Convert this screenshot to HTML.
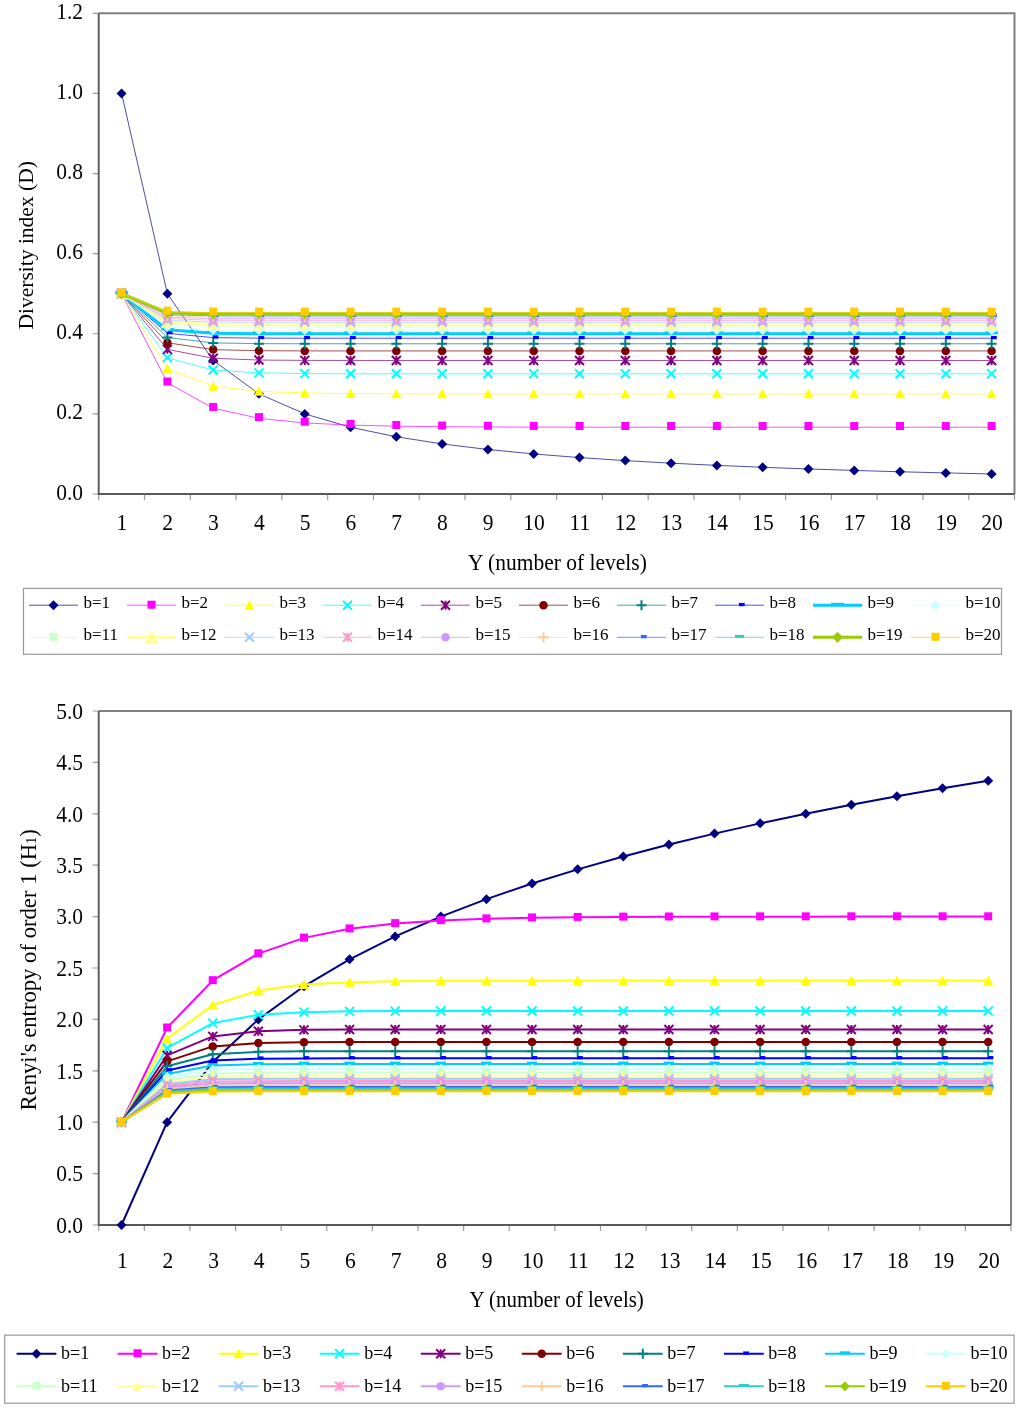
<!DOCTYPE html>
<html><head><meta charset="utf-8"><style>
html,body{margin:0;padding:0;background:#fff;}
body{width:1024px;height:1408px;overflow:hidden;}
svg{display:block;will-change:transform;}
text{font-family:"Liberation Serif", serif;fill:#000;}
</style></head><body>
<svg width="1024" height="1408" viewBox="0 0 1024 1408">
<rect width="1024" height="1408" fill="#fff"/>
<path d="M98.7 13.3H1014.5V494" stroke="#808080" stroke-width="2" fill="none"/>
<path d="M92.7 494H98.7 M92.7 413.88H98.7 M92.7 333.77H98.7 M92.7 253.65H98.7 M92.7 173.53H98.7 M92.7 93.42H98.7 M92.7 13.3H98.7 M98.7 494V499.9 M144.49 494V499.9 M190.28 494V499.9 M236.07 494V499.9 M281.86 494V499.9 M327.65 494V499.9 M373.44 494V499.9 M419.23 494V499.9 M465.02 494V499.9 M510.81 494V499.9 M556.6 494V499.9 M602.39 494V499.9 M648.18 494V499.9 M693.97 494V499.9 M739.76 494V499.9 M785.55 494V499.9 M831.34 494V499.9 M877.13 494V499.9 M922.92 494V499.9 M968.71 494V499.9 M1014.5 494V499.9" stroke="#9a9a9a" stroke-width="1.2" fill="none"/>
<path d="M98.7 13.3V494H1014.5" stroke="#595959" stroke-width="1.9" fill="none"/>
<text transform="translate(83 499.6) scale(1 1.055)" text-anchor="end" font-size="21.5">0.0</text>
<text transform="translate(83 419.48) scale(1 1.055)" text-anchor="end" font-size="21.5">0.2</text>
<text transform="translate(83 339.37) scale(1 1.055)" text-anchor="end" font-size="21.5">0.4</text>
<text transform="translate(83 259.25) scale(1 1.055)" text-anchor="end" font-size="21.5">0.6</text>
<text transform="translate(83 179.13) scale(1 1.055)" text-anchor="end" font-size="21.5">0.8</text>
<text transform="translate(83 99.02) scale(1 1.055)" text-anchor="end" font-size="21.5">1.0</text>
<text transform="translate(83 18.9) scale(1 1.055)" text-anchor="end" font-size="21.5">1.2</text>
<text transform="translate(121.89 530) scale(1 1.055)" text-anchor="middle" font-size="21.5">1</text>
<text transform="translate(167.69 530) scale(1 1.055)" text-anchor="middle" font-size="21.5">2</text>
<text transform="translate(213.48 530) scale(1 1.055)" text-anchor="middle" font-size="21.5">3</text>
<text transform="translate(259.26 530) scale(1 1.055)" text-anchor="middle" font-size="21.5">4</text>
<text transform="translate(305.06 530) scale(1 1.055)" text-anchor="middle" font-size="21.5">5</text>
<text transform="translate(350.85 530) scale(1 1.055)" text-anchor="middle" font-size="21.5">6</text>
<text transform="translate(396.63 530) scale(1 1.055)" text-anchor="middle" font-size="21.5">7</text>
<text transform="translate(442.43 530) scale(1 1.055)" text-anchor="middle" font-size="21.5">8</text>
<text transform="translate(488.21 530) scale(1 1.055)" text-anchor="middle" font-size="21.5">9</text>
<text transform="translate(534 530) scale(1 1.055)" text-anchor="middle" font-size="21.5">10</text>
<text transform="translate(579.79 530) scale(1 1.055)" text-anchor="middle" font-size="21.5">11</text>
<text transform="translate(625.59 530) scale(1 1.055)" text-anchor="middle" font-size="21.5">12</text>
<text transform="translate(671.38 530) scale(1 1.055)" text-anchor="middle" font-size="21.5">13</text>
<text transform="translate(717.16 530) scale(1 1.055)" text-anchor="middle" font-size="21.5">14</text>
<text transform="translate(762.96 530) scale(1 1.055)" text-anchor="middle" font-size="21.5">15</text>
<text transform="translate(808.75 530) scale(1 1.055)" text-anchor="middle" font-size="21.5">16</text>
<text transform="translate(854.53 530) scale(1 1.055)" text-anchor="middle" font-size="21.5">17</text>
<text transform="translate(900.32 530) scale(1 1.055)" text-anchor="middle" font-size="21.5">18</text>
<text transform="translate(946.12 530) scale(1 1.055)" text-anchor="middle" font-size="21.5">19</text>
<text transform="translate(991.9 530) scale(1 1.055)" text-anchor="middle" font-size="21.5">20</text>
<path d="M121.59 93.42 L167.38 293.71 L213.18 360.47 L258.96 393.85 L304.75 413.88 L350.55 427.24 L396.33 436.77 L442.12 443.93 L487.91 449.49 L533.71 453.94 L579.5 457.58 L625.29 460.62 L671.08 463.19 L716.87 465.39 L762.66 467.29 L808.45 468.96 L854.24 470.44 L900.02 471.75 L945.82 472.92 L991.61 473.97" stroke="#000080" stroke-width="0.7" fill="none" stroke-linejoin="round"/>
<path d="M121.59 88.42L126.59 93.42L121.59 98.42L116.59 93.42Z" fill="#000080"/>
<path d="M167.38 288.71L172.38 293.71L167.38 298.71L162.38 293.71Z" fill="#000080"/>
<path d="M213.18 355.47L218.18 360.47L213.18 365.47L208.18 360.47Z" fill="#000080"/>
<path d="M258.96 388.85L263.96 393.85L258.96 398.85L253.96 393.85Z" fill="#000080"/>
<path d="M304.75 408.88L309.75 413.88L304.75 418.88L299.75 413.88Z" fill="#000080"/>
<path d="M350.55 422.24L355.55 427.24L350.55 432.24L345.55 427.24Z" fill="#000080"/>
<path d="M396.33 431.77L401.33 436.77L396.33 441.77L391.33 436.77Z" fill="#000080"/>
<path d="M442.12 438.93L447.12 443.93L442.12 448.93L437.12 443.93Z" fill="#000080"/>
<path d="M487.91 444.49L492.91 449.49L487.91 454.49L482.91 449.49Z" fill="#000080"/>
<path d="M533.71 448.94L538.71 453.94L533.71 458.94L528.71 453.94Z" fill="#000080"/>
<path d="M579.5 452.58L584.5 457.58L579.5 462.58L574.5 457.58Z" fill="#000080"/>
<path d="M625.29 455.62L630.29 460.62L625.29 465.62L620.29 460.62Z" fill="#000080"/>
<path d="M671.08 458.19L676.08 463.19L671.08 468.19L666.08 463.19Z" fill="#000080"/>
<path d="M716.87 460.39L721.87 465.39L716.87 470.39L711.87 465.39Z" fill="#000080"/>
<path d="M762.66 462.29L767.66 467.29L762.66 472.29L757.66 467.29Z" fill="#000080"/>
<path d="M808.45 463.96L813.45 468.96L808.45 473.96L803.45 468.96Z" fill="#000080"/>
<path d="M854.24 465.44L859.24 470.44L854.24 475.44L849.24 470.44Z" fill="#000080"/>
<path d="M900.02 466.75L905.02 471.75L900.02 476.75L895.02 471.75Z" fill="#000080"/>
<path d="M945.82 467.92L950.82 472.92L945.82 477.92L940.82 472.92Z" fill="#000080"/>
<path d="M991.61 468.97L996.61 473.97L991.61 478.97L986.61 473.97Z" fill="#000080"/>
<path d="M121.59 293.71 L167.38 382.73 L213.18 408.16 L258.96 418.33 L304.75 422.93 L350.55 425.12 L396.33 426.18 L442.12 426.71 L487.91 426.97 L533.71 427.11 L579.5 427.17 L625.29 427.2 L671.08 427.22 L716.87 427.23 L762.66 427.23 L808.45 427.23 L854.24 427.24 L900.02 427.24 L945.82 427.24 L991.61 427.24" stroke="#FF00FF" stroke-width="0.7" fill="none" stroke-linejoin="round"/>
<rect x="117.59" y="288.51" width="8" height="8" fill="#FF00FF"/>
<rect x="163.38" y="377.53" width="8" height="8" fill="#FF00FF"/>
<rect x="209.18" y="402.96" width="8" height="8" fill="#FF00FF"/>
<rect x="254.96" y="413.13" width="8" height="8" fill="#FF00FF"/>
<rect x="300.75" y="417.73" width="8" height="8" fill="#FF00FF"/>
<rect x="346.55" y="419.92" width="8" height="8" fill="#FF00FF"/>
<rect x="392.33" y="420.98" width="8" height="8" fill="#FF00FF"/>
<rect x="438.12" y="421.51" width="8" height="8" fill="#FF00FF"/>
<rect x="483.91" y="421.77" width="8" height="8" fill="#FF00FF"/>
<rect x="529.71" y="421.91" width="8" height="8" fill="#FF00FF"/>
<rect x="575.5" y="421.97" width="8" height="8" fill="#FF00FF"/>
<rect x="621.29" y="422" width="8" height="8" fill="#FF00FF"/>
<rect x="667.08" y="422.02" width="8" height="8" fill="#FF00FF"/>
<rect x="712.87" y="422.03" width="8" height="8" fill="#FF00FF"/>
<rect x="758.66" y="422.03" width="8" height="8" fill="#FF00FF"/>
<rect x="804.45" y="422.03" width="8" height="8" fill="#FF00FF"/>
<rect x="850.24" y="422.04" width="8" height="8" fill="#FF00FF"/>
<rect x="896.02" y="422.04" width="8" height="8" fill="#FF00FF"/>
<rect x="941.82" y="422.04" width="8" height="8" fill="#FF00FF"/>
<rect x="987.61" y="422.04" width="8" height="8" fill="#FF00FF"/>
<path d="M121.59 293.71 L167.38 368.82 L213.18 386.15 L258.96 391.35 L304.75 393.03 L350.55 393.58 L396.33 393.76 L442.12 393.82 L487.91 393.84 L533.71 393.85 L579.5 393.85 L625.29 393.85 L671.08 393.85 L716.87 393.85 L762.66 393.85 L808.45 393.85 L854.24 393.85 L900.02 393.85 L945.82 393.85 L991.61 393.85" stroke="#FFFF00" stroke-width="0.7" fill="none" stroke-linejoin="round"/>
<path d="M121.59 288.71L126.59 298.21L116.59 298.21Z" fill="#FFFF00"/>
<path d="M167.38 363.82L172.38 373.32L162.38 373.32Z" fill="#FFFF00"/>
<path d="M213.18 381.15L218.18 390.65L208.18 390.65Z" fill="#FFFF00"/>
<path d="M258.96 386.35L263.96 395.85L253.96 395.85Z" fill="#FFFF00"/>
<path d="M304.75 388.03L309.75 397.53L299.75 397.53Z" fill="#FFFF00"/>
<path d="M350.55 388.58L355.55 398.08L345.55 398.08Z" fill="#FFFF00"/>
<path d="M396.33 388.76L401.33 398.26L391.33 398.26Z" fill="#FFFF00"/>
<path d="M442.12 388.82L447.12 398.32L437.12 398.32Z" fill="#FFFF00"/>
<path d="M487.91 388.84L492.91 398.34L482.91 398.34Z" fill="#FFFF00"/>
<path d="M533.71 388.85L538.71 398.35L528.71 398.35Z" fill="#FFFF00"/>
<path d="M579.5 388.85L584.5 398.35L574.5 398.35Z" fill="#FFFF00"/>
<path d="M625.29 388.85L630.29 398.35L620.29 398.35Z" fill="#FFFF00"/>
<path d="M671.08 388.85L676.08 398.35L666.08 398.35Z" fill="#FFFF00"/>
<path d="M716.87 388.85L721.87 398.35L711.87 398.35Z" fill="#FFFF00"/>
<path d="M762.66 388.85L767.66 398.35L757.66 398.35Z" fill="#FFFF00"/>
<path d="M808.45 388.85L813.45 398.35L803.45 398.35Z" fill="#FFFF00"/>
<path d="M854.24 388.85L859.24 398.35L849.24 398.35Z" fill="#FFFF00"/>
<path d="M900.02 388.85L905.02 398.35L895.02 398.35Z" fill="#FFFF00"/>
<path d="M945.82 388.85L950.82 398.35L940.82 398.35Z" fill="#FFFF00"/>
<path d="M991.61 388.85L996.61 398.35L986.61 398.35Z" fill="#FFFF00"/>
<path d="M121.59 293.71 L167.38 357.8 L213.18 370.01 L258.96 372.88 L304.75 373.59 L350.55 373.77 L396.33 373.81 L442.12 373.82 L487.91 373.82 L533.71 373.82 L579.5 373.82 L625.29 373.82 L671.08 373.82 L716.87 373.82 L762.66 373.82 L808.45 373.82 L854.24 373.82 L900.02 373.82 L945.82 373.82 L991.61 373.82" stroke="#00FFFF" stroke-width="0.7" fill="none" stroke-linejoin="round"/>
<path d="M117.09 289.21L126.09 298.21M126.09 289.21L117.09 298.21" stroke="#00FFFF" stroke-width="2" fill="none"/>
<path d="M162.88 353.3L171.88 362.3M171.88 353.3L162.88 362.3" stroke="#00FFFF" stroke-width="2" fill="none"/>
<path d="M208.68 365.51L217.68 374.51M217.68 365.51L208.68 374.51" stroke="#00FFFF" stroke-width="2" fill="none"/>
<path d="M254.46 368.38L263.46 377.38M263.46 368.38L254.46 377.38" stroke="#00FFFF" stroke-width="2" fill="none"/>
<path d="M300.25 369.09L309.25 378.09M309.25 369.09L300.25 378.09" stroke="#00FFFF" stroke-width="2" fill="none"/>
<path d="M346.05 369.27L355.05 378.27M355.05 369.27L346.05 378.27" stroke="#00FFFF" stroke-width="2" fill="none"/>
<path d="M391.83 369.31L400.83 378.31M400.83 369.31L391.83 378.31" stroke="#00FFFF" stroke-width="2" fill="none"/>
<path d="M437.62 369.32L446.62 378.32M446.62 369.32L437.62 378.32" stroke="#00FFFF" stroke-width="2" fill="none"/>
<path d="M483.41 369.32L492.41 378.32M492.41 369.32L483.41 378.32" stroke="#00FFFF" stroke-width="2" fill="none"/>
<path d="M529.21 369.32L538.21 378.32M538.21 369.32L529.21 378.32" stroke="#00FFFF" stroke-width="2" fill="none"/>
<path d="M575 369.32L584 378.32M584 369.32L575 378.32" stroke="#00FFFF" stroke-width="2" fill="none"/>
<path d="M620.79 369.32L629.79 378.32M629.79 369.32L620.79 378.32" stroke="#00FFFF" stroke-width="2" fill="none"/>
<path d="M666.58 369.32L675.58 378.32M675.58 369.32L666.58 378.32" stroke="#00FFFF" stroke-width="2" fill="none"/>
<path d="M712.37 369.32L721.37 378.32M721.37 369.32L712.37 378.32" stroke="#00FFFF" stroke-width="2" fill="none"/>
<path d="M758.16 369.32L767.16 378.32M767.16 369.32L758.16 378.32" stroke="#00FFFF" stroke-width="2" fill="none"/>
<path d="M803.95 369.32L812.95 378.32M812.95 369.32L803.95 378.32" stroke="#00FFFF" stroke-width="2" fill="none"/>
<path d="M849.74 369.32L858.74 378.32M858.74 369.32L849.74 378.32" stroke="#00FFFF" stroke-width="2" fill="none"/>
<path d="M895.52 369.32L904.52 378.32M904.52 369.32L895.52 378.32" stroke="#00FFFF" stroke-width="2" fill="none"/>
<path d="M941.32 369.32L950.32 378.32M950.32 369.32L941.32 378.32" stroke="#00FFFF" stroke-width="2" fill="none"/>
<path d="M987.11 369.32L996.11 378.32M996.11 369.32L987.11 378.32" stroke="#00FFFF" stroke-width="2" fill="none"/>
<path d="M121.59 293.71 L167.38 349.34 L213.18 358.32 L258.96 360.04 L304.75 360.39 L350.55 360.46 L396.33 360.47 L442.12 360.47 L487.91 360.47 L533.71 360.47 L579.5 360.47 L625.29 360.47 L671.08 360.47 L716.87 360.47 L762.66 360.47 L808.45 360.47 L854.24 360.47 L900.02 360.47 L945.82 360.47 L991.61 360.47" stroke="#800080" stroke-width="0.7" fill="none" stroke-linejoin="round"/>
<path d="M117.09 289.21L126.09 298.21M126.09 289.21L117.09 298.21M121.59 289.21L121.59 298.21" stroke="#800080" stroke-width="2" fill="none"/>
<path d="M162.88 344.84L171.88 353.84M171.88 344.84L162.88 353.84M167.38 344.84L167.38 353.84" stroke="#800080" stroke-width="2" fill="none"/>
<path d="M208.68 353.82L217.68 362.82M217.68 353.82L208.68 362.82M213.18 353.82L213.18 362.82" stroke="#800080" stroke-width="2" fill="none"/>
<path d="M254.46 355.54L263.46 364.54M263.46 355.54L254.46 364.54M258.96 355.54L258.96 364.54" stroke="#800080" stroke-width="2" fill="none"/>
<path d="M300.25 355.89L309.25 364.89M309.25 355.89L300.25 364.89M304.75 355.89L304.75 364.89" stroke="#800080" stroke-width="2" fill="none"/>
<path d="M346.05 355.96L355.05 364.96M355.05 355.96L346.05 364.96M350.55 355.96L350.55 364.96" stroke="#800080" stroke-width="2" fill="none"/>
<path d="M391.83 355.97L400.83 364.97M400.83 355.97L391.83 364.97M396.33 355.97L396.33 364.97" stroke="#800080" stroke-width="2" fill="none"/>
<path d="M437.62 355.97L446.62 364.97M446.62 355.97L437.62 364.97M442.12 355.97L442.12 364.97" stroke="#800080" stroke-width="2" fill="none"/>
<path d="M483.41 355.97L492.41 364.97M492.41 355.97L483.41 364.97M487.91 355.97L487.91 364.97" stroke="#800080" stroke-width="2" fill="none"/>
<path d="M529.21 355.97L538.21 364.97M538.21 355.97L529.21 364.97M533.71 355.97L533.71 364.97" stroke="#800080" stroke-width="2" fill="none"/>
<path d="M575 355.97L584 364.97M584 355.97L575 364.97M579.5 355.97L579.5 364.97" stroke="#800080" stroke-width="2" fill="none"/>
<path d="M620.79 355.97L629.79 364.97M629.79 355.97L620.79 364.97M625.29 355.97L625.29 364.97" stroke="#800080" stroke-width="2" fill="none"/>
<path d="M666.58 355.97L675.58 364.97M675.58 355.97L666.58 364.97M671.08 355.97L671.08 364.97" stroke="#800080" stroke-width="2" fill="none"/>
<path d="M712.37 355.97L721.37 364.97M721.37 355.97L712.37 364.97M716.87 355.97L716.87 364.97" stroke="#800080" stroke-width="2" fill="none"/>
<path d="M758.16 355.97L767.16 364.97M767.16 355.97L758.16 364.97M762.66 355.97L762.66 364.97" stroke="#800080" stroke-width="2" fill="none"/>
<path d="M803.95 355.97L812.95 364.97M812.95 355.97L803.95 364.97M808.45 355.97L808.45 364.97" stroke="#800080" stroke-width="2" fill="none"/>
<path d="M849.74 355.97L858.74 364.97M858.74 355.97L849.74 364.97M854.24 355.97L854.24 364.97" stroke="#800080" stroke-width="2" fill="none"/>
<path d="M895.52 355.97L904.52 364.97M904.52 355.97L895.52 364.97M900.02 355.97L900.02 364.97" stroke="#800080" stroke-width="2" fill="none"/>
<path d="M941.32 355.97L950.32 364.97M950.32 355.97L941.32 364.97M945.82 355.97L945.82 364.97" stroke="#800080" stroke-width="2" fill="none"/>
<path d="M987.11 355.97L996.11 364.97M996.11 355.97L987.11 364.97M991.61 355.97L991.61 364.97" stroke="#800080" stroke-width="2" fill="none"/>
<path d="M121.59 293.71 L167.38 342.76 L213.18 349.6 L258.96 350.71 L304.75 350.9 L350.55 350.93 L396.33 350.93 L442.12 350.93 L487.91 350.93 L533.71 350.93 L579.5 350.93 L625.29 350.93 L671.08 350.93 L716.87 350.93 L762.66 350.93 L808.45 350.93 L854.24 350.93 L900.02 350.93 L945.82 350.93 L991.61 350.93" stroke="#800000" stroke-width="0.7" fill="none" stroke-linejoin="round"/>
<circle cx="121.59" cy="293.71" r="4.25" fill="#800000"/>
<circle cx="167.38" cy="342.76" r="4.25" fill="#800000"/>
<circle cx="213.18" cy="349.6" r="4.25" fill="#800000"/>
<circle cx="258.96" cy="350.71" r="4.25" fill="#800000"/>
<circle cx="304.75" cy="350.9" r="4.25" fill="#800000"/>
<circle cx="350.55" cy="350.93" r="4.25" fill="#800000"/>
<circle cx="396.33" cy="350.93" r="4.25" fill="#800000"/>
<circle cx="442.12" cy="350.93" r="4.25" fill="#800000"/>
<circle cx="487.91" cy="350.93" r="4.25" fill="#800000"/>
<circle cx="533.71" cy="350.93" r="4.25" fill="#800000"/>
<circle cx="579.5" cy="350.93" r="4.25" fill="#800000"/>
<circle cx="625.29" cy="350.93" r="4.25" fill="#800000"/>
<circle cx="671.08" cy="350.93" r="4.25" fill="#800000"/>
<circle cx="716.87" cy="350.93" r="4.25" fill="#800000"/>
<circle cx="762.66" cy="350.93" r="4.25" fill="#800000"/>
<circle cx="808.45" cy="350.93" r="4.25" fill="#800000"/>
<circle cx="854.24" cy="350.93" r="4.25" fill="#800000"/>
<circle cx="900.02" cy="350.93" r="4.25" fill="#800000"/>
<circle cx="945.82" cy="350.93" r="4.25" fill="#800000"/>
<circle cx="991.61" cy="350.93" r="4.25" fill="#800000"/>
<path d="M121.59 293.71 L167.38 337.52 L213.18 342.9 L258.96 343.66 L304.75 343.76 L350.55 343.78 L396.33 343.78 L442.12 343.78 L487.91 343.78 L533.71 343.78 L579.5 343.78 L625.29 343.78 L671.08 343.78 L716.87 343.78 L762.66 343.78 L808.45 343.78 L854.24 343.78 L900.02 343.78 L945.82 343.78 L991.61 343.78" stroke="#008080" stroke-width="0.7" fill="none" stroke-linejoin="round"/>
<path d="M116.59 293.71L126.59 293.71M121.59 288.71L121.59 298.71" stroke="#008080" stroke-width="2" fill="none"/>
<path d="M162.38 337.52L172.38 337.52M167.38 332.52L167.38 342.52" stroke="#008080" stroke-width="2" fill="none"/>
<path d="M208.18 342.9L218.18 342.9M213.18 337.9L213.18 347.9" stroke="#008080" stroke-width="2" fill="none"/>
<path d="M253.96 343.66L263.96 343.66M258.96 338.66L258.96 348.66" stroke="#008080" stroke-width="2" fill="none"/>
<path d="M299.75 343.76L309.75 343.76M304.75 338.76L304.75 348.76" stroke="#008080" stroke-width="2" fill="none"/>
<path d="M345.55 343.78L355.55 343.78M350.55 338.78L350.55 348.78" stroke="#008080" stroke-width="2" fill="none"/>
<path d="M391.33 343.78L401.33 343.78M396.33 338.78L396.33 348.78" stroke="#008080" stroke-width="2" fill="none"/>
<path d="M437.12 343.78L447.12 343.78M442.12 338.78L442.12 348.78" stroke="#008080" stroke-width="2" fill="none"/>
<path d="M482.91 343.78L492.91 343.78M487.91 338.78L487.91 348.78" stroke="#008080" stroke-width="2" fill="none"/>
<path d="M528.71 343.78L538.71 343.78M533.71 338.78L533.71 348.78" stroke="#008080" stroke-width="2" fill="none"/>
<path d="M574.5 343.78L584.5 343.78M579.5 338.78L579.5 348.78" stroke="#008080" stroke-width="2" fill="none"/>
<path d="M620.29 343.78L630.29 343.78M625.29 338.78L625.29 348.78" stroke="#008080" stroke-width="2" fill="none"/>
<path d="M666.08 343.78L676.08 343.78M671.08 338.78L671.08 348.78" stroke="#008080" stroke-width="2" fill="none"/>
<path d="M711.87 343.78L721.87 343.78M716.87 338.78L716.87 348.78" stroke="#008080" stroke-width="2" fill="none"/>
<path d="M757.66 343.78L767.66 343.78M762.66 338.78L762.66 348.78" stroke="#008080" stroke-width="2" fill="none"/>
<path d="M803.45 343.78L813.45 343.78M808.45 338.78L808.45 348.78" stroke="#008080" stroke-width="2" fill="none"/>
<path d="M849.24 343.78L859.24 343.78M854.24 338.78L854.24 348.78" stroke="#008080" stroke-width="2" fill="none"/>
<path d="M895.02 343.78L905.02 343.78M900.02 338.78L900.02 348.78" stroke="#008080" stroke-width="2" fill="none"/>
<path d="M940.82 343.78L950.82 343.78M945.82 338.78L945.82 348.78" stroke="#008080" stroke-width="2" fill="none"/>
<path d="M986.61 343.78L996.61 343.78M991.61 338.78L991.61 348.78" stroke="#008080" stroke-width="2" fill="none"/>
<path d="M121.59 293.71 L167.38 333.27 L213.18 337.61 L258.96 338.14 L304.75 338.21 L350.55 338.22 L396.33 338.22 L442.12 338.22 L487.91 338.22 L533.71 338.22 L579.5 338.22 L625.29 338.22 L671.08 338.22 L716.87 338.22 L762.66 338.22 L808.45 338.22 L854.24 338.22 L900.02 338.22 L945.82 338.22 L991.61 338.22" stroke="#0000FF" stroke-width="0.7" fill="none" stroke-linejoin="round"/>
<rect x="121" y="291.41" width="5.8" height="3.3" fill="#0000FF"/>
<rect x="166.78" y="330.97" width="5.8" height="3.3" fill="#0000FF"/>
<rect x="212.58" y="335.31" width="5.8" height="3.3" fill="#0000FF"/>
<rect x="258.36" y="335.84" width="5.8" height="3.3" fill="#0000FF"/>
<rect x="304.15" y="335.91" width="5.8" height="3.3" fill="#0000FF"/>
<rect x="349.94" y="335.92" width="5.8" height="3.3" fill="#0000FF"/>
<rect x="395.73" y="335.92" width="5.8" height="3.3" fill="#0000FF"/>
<rect x="441.52" y="335.92" width="5.8" height="3.3" fill="#0000FF"/>
<rect x="487.31" y="335.92" width="5.8" height="3.3" fill="#0000FF"/>
<rect x="533.11" y="335.92" width="5.8" height="3.3" fill="#0000FF"/>
<rect x="578.89" y="335.92" width="5.8" height="3.3" fill="#0000FF"/>
<rect x="624.69" y="335.92" width="5.8" height="3.3" fill="#0000FF"/>
<rect x="670.48" y="335.92" width="5.8" height="3.3" fill="#0000FF"/>
<rect x="716.26" y="335.92" width="5.8" height="3.3" fill="#0000FF"/>
<rect x="762.06" y="335.92" width="5.8" height="3.3" fill="#0000FF"/>
<rect x="807.85" y="335.92" width="5.8" height="3.3" fill="#0000FF"/>
<rect x="853.63" y="335.92" width="5.8" height="3.3" fill="#0000FF"/>
<rect x="899.42" y="335.92" width="5.8" height="3.3" fill="#0000FF"/>
<rect x="945.22" y="335.92" width="5.8" height="3.3" fill="#0000FF"/>
<rect x="991" y="335.92" width="5.8" height="3.3" fill="#0000FF"/>
<path d="M121.59 293.71 L167.38 329.76 L213.18 333.33 L258.96 333.72 L304.75 333.76 L350.55 333.77 L396.33 333.77 L442.12 333.77 L487.91 333.77 L533.71 333.77 L579.5 333.77 L625.29 333.77 L671.08 333.77 L716.87 333.77 L762.66 333.77 L808.45 333.77 L854.24 333.77 L900.02 333.77 L945.82 333.77 L991.61 333.77" stroke="#00CCFF" stroke-width="3" fill="none" stroke-linejoin="round"/>
<rect x="115.09" y="291.31" width="13" height="3" fill="#00CCFF"/>
<rect x="160.88" y="327.36" width="13" height="3" fill="#00CCFF"/>
<rect x="206.68" y="330.93" width="13" height="3" fill="#00CCFF"/>
<rect x="252.46" y="331.32" width="13" height="3" fill="#00CCFF"/>
<rect x="298.25" y="331.36" width="13" height="3" fill="#00CCFF"/>
<rect x="344.05" y="331.37" width="13" height="3" fill="#00CCFF"/>
<rect x="389.83" y="331.37" width="13" height="3" fill="#00CCFF"/>
<rect x="435.62" y="331.37" width="13" height="3" fill="#00CCFF"/>
<rect x="481.41" y="331.37" width="13" height="3" fill="#00CCFF"/>
<rect x="527.21" y="331.37" width="13" height="3" fill="#00CCFF"/>
<rect x="573" y="331.37" width="13" height="3" fill="#00CCFF"/>
<rect x="618.79" y="331.37" width="13" height="3" fill="#00CCFF"/>
<rect x="664.58" y="331.37" width="13" height="3" fill="#00CCFF"/>
<rect x="710.37" y="331.37" width="13" height="3" fill="#00CCFF"/>
<rect x="756.16" y="331.37" width="13" height="3" fill="#00CCFF"/>
<rect x="801.95" y="331.37" width="13" height="3" fill="#00CCFF"/>
<rect x="847.74" y="331.37" width="13" height="3" fill="#00CCFF"/>
<rect x="893.52" y="331.37" width="13" height="3" fill="#00CCFF"/>
<rect x="939.32" y="331.37" width="13" height="3" fill="#00CCFF"/>
<rect x="985.11" y="331.37" width="13" height="3" fill="#00CCFF"/>
<path d="M121.59 293.71 L167.38 326.81 L213.18 329.8 L258.96 330.09 L304.75 330.12 L350.55 330.12 L396.33 330.12 L442.12 330.12 L487.91 330.12 L533.71 330.12 L579.5 330.12 L625.29 330.12 L671.08 330.12 L716.87 330.12 L762.66 330.12 L808.45 330.12 L854.24 330.12 L900.02 330.12 L945.82 330.12 L991.61 330.12" stroke="#CCFFFF" stroke-width="0.7" fill="none" stroke-linejoin="round"/>
<path d="M121.59 288.71L126.59 293.71L121.59 298.71L116.59 293.71Z" fill="#CCFFFF"/>
<path d="M167.38 321.81L172.38 326.81L167.38 331.81L162.38 326.81Z" fill="#CCFFFF"/>
<path d="M213.18 324.8L218.18 329.8L213.18 334.8L208.18 329.8Z" fill="#CCFFFF"/>
<path d="M258.96 325.09L263.96 330.09L258.96 335.09L253.96 330.09Z" fill="#CCFFFF"/>
<path d="M304.75 325.12L309.75 330.12L304.75 335.12L299.75 330.12Z" fill="#CCFFFF"/>
<path d="M350.55 325.12L355.55 330.12L350.55 335.12L345.55 330.12Z" fill="#CCFFFF"/>
<path d="M396.33 325.12L401.33 330.12L396.33 335.12L391.33 330.12Z" fill="#CCFFFF"/>
<path d="M442.12 325.12L447.12 330.12L442.12 335.12L437.12 330.12Z" fill="#CCFFFF"/>
<path d="M487.91 325.12L492.91 330.12L487.91 335.12L482.91 330.12Z" fill="#CCFFFF"/>
<path d="M533.71 325.12L538.71 330.12L533.71 335.12L528.71 330.12Z" fill="#CCFFFF"/>
<path d="M579.5 325.12L584.5 330.12L579.5 335.12L574.5 330.12Z" fill="#CCFFFF"/>
<path d="M625.29 325.12L630.29 330.12L625.29 335.12L620.29 330.12Z" fill="#CCFFFF"/>
<path d="M671.08 325.12L676.08 330.12L671.08 335.12L666.08 330.12Z" fill="#CCFFFF"/>
<path d="M716.87 325.12L721.87 330.12L716.87 335.12L711.87 330.12Z" fill="#CCFFFF"/>
<path d="M762.66 325.12L767.66 330.12L762.66 335.12L757.66 330.12Z" fill="#CCFFFF"/>
<path d="M808.45 325.12L813.45 330.12L808.45 335.12L803.45 330.12Z" fill="#CCFFFF"/>
<path d="M854.24 325.12L859.24 330.12L854.24 335.12L849.24 330.12Z" fill="#CCFFFF"/>
<path d="M900.02 325.12L905.02 330.12L900.02 335.12L895.02 330.12Z" fill="#CCFFFF"/>
<path d="M945.82 325.12L950.82 330.12L945.82 335.12L940.82 330.12Z" fill="#CCFFFF"/>
<path d="M991.61 325.12L996.61 330.12L991.61 335.12L986.61 330.12Z" fill="#CCFFFF"/>
<path d="M121.59 293.71 L167.38 324.31 L213.18 326.84 L258.96 327.07 L304.75 327.09 L350.55 327.09 L396.33 327.09 L442.12 327.09 L487.91 327.09 L533.71 327.09 L579.5 327.09 L625.29 327.09 L671.08 327.09 L716.87 327.09 L762.66 327.09 L808.45 327.09 L854.24 327.09 L900.02 327.09 L945.82 327.09 L991.61 327.09" stroke="#CCFFCC" stroke-width="0.7" fill="none" stroke-linejoin="round"/>
<rect x="117.59" y="288.51" width="8" height="8" fill="#CCFFCC"/>
<rect x="163.38" y="319.11" width="8" height="8" fill="#CCFFCC"/>
<rect x="209.18" y="321.64" width="8" height="8" fill="#CCFFCC"/>
<rect x="254.96" y="321.87" width="8" height="8" fill="#CCFFCC"/>
<rect x="300.75" y="321.89" width="8" height="8" fill="#CCFFCC"/>
<rect x="346.55" y="321.89" width="8" height="8" fill="#CCFFCC"/>
<rect x="392.33" y="321.89" width="8" height="8" fill="#CCFFCC"/>
<rect x="438.12" y="321.89" width="8" height="8" fill="#CCFFCC"/>
<rect x="483.91" y="321.89" width="8" height="8" fill="#CCFFCC"/>
<rect x="529.71" y="321.89" width="8" height="8" fill="#CCFFCC"/>
<rect x="575.5" y="321.89" width="8" height="8" fill="#CCFFCC"/>
<rect x="621.29" y="321.89" width="8" height="8" fill="#CCFFCC"/>
<rect x="667.08" y="321.89" width="8" height="8" fill="#CCFFCC"/>
<rect x="712.87" y="321.89" width="8" height="8" fill="#CCFFCC"/>
<rect x="758.66" y="321.89" width="8" height="8" fill="#CCFFCC"/>
<rect x="804.45" y="321.89" width="8" height="8" fill="#CCFFCC"/>
<rect x="850.24" y="321.89" width="8" height="8" fill="#CCFFCC"/>
<rect x="896.02" y="321.89" width="8" height="8" fill="#CCFFCC"/>
<rect x="941.82" y="321.89" width="8" height="8" fill="#CCFFCC"/>
<rect x="987.61" y="321.89" width="8" height="8" fill="#CCFFCC"/>
<path d="M121.59 293.71 L167.38 322.15 L213.18 324.33 L258.96 324.51 L304.75 324.52 L350.55 324.52 L396.33 324.52 L442.12 324.52 L487.91 324.52 L533.71 324.52 L579.5 324.52 L625.29 324.52 L671.08 324.52 L716.87 324.52 L762.66 324.52 L808.45 324.52 L854.24 324.52 L900.02 324.52 L945.82 324.52 L991.61 324.52" stroke="#FFFF99" stroke-width="2.5" fill="none" stroke-linejoin="round"/>
<path d="M121.59 287.21L128.09 299.56L115.09 299.56Z" fill="#FFFF99"/>
<path d="M167.38 315.65L173.88 328L160.88 328Z" fill="#FFFF99"/>
<path d="M213.18 317.83L219.68 330.18L206.68 330.18Z" fill="#FFFF99"/>
<path d="M258.96 318.01L265.46 330.36L252.46 330.36Z" fill="#FFFF99"/>
<path d="M304.75 318.02L311.25 330.37L298.25 330.37Z" fill="#FFFF99"/>
<path d="M350.55 318.02L357.05 330.37L344.05 330.37Z" fill="#FFFF99"/>
<path d="M396.33 318.02L402.83 330.37L389.83 330.37Z" fill="#FFFF99"/>
<path d="M442.12 318.02L448.62 330.37L435.62 330.37Z" fill="#FFFF99"/>
<path d="M487.91 318.02L494.41 330.37L481.41 330.37Z" fill="#FFFF99"/>
<path d="M533.71 318.02L540.21 330.37L527.21 330.37Z" fill="#FFFF99"/>
<path d="M579.5 318.02L586 330.37L573 330.37Z" fill="#FFFF99"/>
<path d="M625.29 318.02L631.79 330.37L618.79 330.37Z" fill="#FFFF99"/>
<path d="M671.08 318.02L677.58 330.37L664.58 330.37Z" fill="#FFFF99"/>
<path d="M716.87 318.02L723.37 330.37L710.37 330.37Z" fill="#FFFF99"/>
<path d="M762.66 318.02L769.16 330.37L756.16 330.37Z" fill="#FFFF99"/>
<path d="M808.45 318.02L814.95 330.37L801.95 330.37Z" fill="#FFFF99"/>
<path d="M854.24 318.02L860.74 330.37L847.74 330.37Z" fill="#FFFF99"/>
<path d="M900.02 318.02L906.52 330.37L893.52 330.37Z" fill="#FFFF99"/>
<path d="M945.82 318.02L952.32 330.37L939.32 330.37Z" fill="#FFFF99"/>
<path d="M991.61 318.02L998.11 330.37L985.11 330.37Z" fill="#FFFF99"/>
<path d="M121.59 293.71 L167.38 320.28 L213.18 322.17 L258.96 322.31 L304.75 322.32 L350.55 322.32 L396.33 322.32 L442.12 322.32 L487.91 322.32 L533.71 322.32 L579.5 322.32 L625.29 322.32 L671.08 322.32 L716.87 322.32 L762.66 322.32 L808.45 322.32 L854.24 322.32 L900.02 322.32 L945.82 322.32 L991.61 322.32" stroke="#99CCFF" stroke-width="0.7" fill="none" stroke-linejoin="round"/>
<path d="M117.09 289.21L126.09 298.21M126.09 289.21L117.09 298.21" stroke="#99CCFF" stroke-width="2" fill="none"/>
<path d="M162.88 315.78L171.88 324.78M171.88 315.78L162.88 324.78" stroke="#99CCFF" stroke-width="2" fill="none"/>
<path d="M208.68 317.67L217.68 326.67M217.68 317.67L208.68 326.67" stroke="#99CCFF" stroke-width="2" fill="none"/>
<path d="M254.46 317.81L263.46 326.81M263.46 317.81L254.46 326.81" stroke="#99CCFF" stroke-width="2" fill="none"/>
<path d="M300.25 317.82L309.25 326.82M309.25 317.82L300.25 326.82" stroke="#99CCFF" stroke-width="2" fill="none"/>
<path d="M346.05 317.82L355.05 326.82M355.05 317.82L346.05 326.82" stroke="#99CCFF" stroke-width="2" fill="none"/>
<path d="M391.83 317.82L400.83 326.82M400.83 317.82L391.83 326.82" stroke="#99CCFF" stroke-width="2" fill="none"/>
<path d="M437.62 317.82L446.62 326.82M446.62 317.82L437.62 326.82" stroke="#99CCFF" stroke-width="2" fill="none"/>
<path d="M483.41 317.82L492.41 326.82M492.41 317.82L483.41 326.82" stroke="#99CCFF" stroke-width="2" fill="none"/>
<path d="M529.21 317.82L538.21 326.82M538.21 317.82L529.21 326.82" stroke="#99CCFF" stroke-width="2" fill="none"/>
<path d="M575 317.82L584 326.82M584 317.82L575 326.82" stroke="#99CCFF" stroke-width="2" fill="none"/>
<path d="M620.79 317.82L629.79 326.82M629.79 317.82L620.79 326.82" stroke="#99CCFF" stroke-width="2" fill="none"/>
<path d="M666.58 317.82L675.58 326.82M675.58 317.82L666.58 326.82" stroke="#99CCFF" stroke-width="2" fill="none"/>
<path d="M712.37 317.82L721.37 326.82M721.37 317.82L712.37 326.82" stroke="#99CCFF" stroke-width="2" fill="none"/>
<path d="M758.16 317.82L767.16 326.82M767.16 317.82L758.16 326.82" stroke="#99CCFF" stroke-width="2" fill="none"/>
<path d="M803.95 317.82L812.95 326.82M812.95 317.82L803.95 326.82" stroke="#99CCFF" stroke-width="2" fill="none"/>
<path d="M849.74 317.82L858.74 326.82M858.74 317.82L849.74 326.82" stroke="#99CCFF" stroke-width="2" fill="none"/>
<path d="M895.52 317.82L904.52 326.82M904.52 317.82L895.52 326.82" stroke="#99CCFF" stroke-width="2" fill="none"/>
<path d="M941.32 317.82L950.32 326.82M950.32 317.82L941.32 326.82" stroke="#99CCFF" stroke-width="2" fill="none"/>
<path d="M987.11 317.82L996.11 326.82M996.11 317.82L987.11 326.82" stroke="#99CCFF" stroke-width="2" fill="none"/>
<path d="M121.59 293.71 L167.38 318.63 L213.18 320.29 L258.96 320.4 L304.75 320.41 L350.55 320.41 L396.33 320.41 L442.12 320.41 L487.91 320.41 L533.71 320.41 L579.5 320.41 L625.29 320.41 L671.08 320.41 L716.87 320.41 L762.66 320.41 L808.45 320.41 L854.24 320.41 L900.02 320.41 L945.82 320.41 L991.61 320.41" stroke="#FF99CC" stroke-width="0.7" fill="none" stroke-linejoin="round"/>
<path d="M117.09 289.21L126.09 298.21M126.09 289.21L117.09 298.21M121.59 289.21L121.59 298.21" stroke="#FF99CC" stroke-width="2" fill="none"/>
<path d="M162.88 314.13L171.88 323.13M171.88 314.13L162.88 323.13M167.38 314.13L167.38 323.13" stroke="#FF99CC" stroke-width="2" fill="none"/>
<path d="M208.68 315.79L217.68 324.79M217.68 315.79L208.68 324.79M213.18 315.79L213.18 324.79" stroke="#FF99CC" stroke-width="2" fill="none"/>
<path d="M254.46 315.9L263.46 324.9M263.46 315.9L254.46 324.9M258.96 315.9L258.96 324.9" stroke="#FF99CC" stroke-width="2" fill="none"/>
<path d="M300.25 315.91L309.25 324.91M309.25 315.91L300.25 324.91M304.75 315.91L304.75 324.91" stroke="#FF99CC" stroke-width="2" fill="none"/>
<path d="M346.05 315.91L355.05 324.91M355.05 315.91L346.05 324.91M350.55 315.91L350.55 324.91" stroke="#FF99CC" stroke-width="2" fill="none"/>
<path d="M391.83 315.91L400.83 324.91M400.83 315.91L391.83 324.91M396.33 315.91L396.33 324.91" stroke="#FF99CC" stroke-width="2" fill="none"/>
<path d="M437.62 315.91L446.62 324.91M446.62 315.91L437.62 324.91M442.12 315.91L442.12 324.91" stroke="#FF99CC" stroke-width="2" fill="none"/>
<path d="M483.41 315.91L492.41 324.91M492.41 315.91L483.41 324.91M487.91 315.91L487.91 324.91" stroke="#FF99CC" stroke-width="2" fill="none"/>
<path d="M529.21 315.91L538.21 324.91M538.21 315.91L529.21 324.91M533.71 315.91L533.71 324.91" stroke="#FF99CC" stroke-width="2" fill="none"/>
<path d="M575 315.91L584 324.91M584 315.91L575 324.91M579.5 315.91L579.5 324.91" stroke="#FF99CC" stroke-width="2" fill="none"/>
<path d="M620.79 315.91L629.79 324.91M629.79 315.91L620.79 324.91M625.29 315.91L625.29 324.91" stroke="#FF99CC" stroke-width="2" fill="none"/>
<path d="M666.58 315.91L675.58 324.91M675.58 315.91L666.58 324.91M671.08 315.91L671.08 324.91" stroke="#FF99CC" stroke-width="2" fill="none"/>
<path d="M712.37 315.91L721.37 324.91M721.37 315.91L712.37 324.91M716.87 315.91L716.87 324.91" stroke="#FF99CC" stroke-width="2" fill="none"/>
<path d="M758.16 315.91L767.16 324.91M767.16 315.91L758.16 324.91M762.66 315.91L762.66 324.91" stroke="#FF99CC" stroke-width="2" fill="none"/>
<path d="M803.95 315.91L812.95 324.91M812.95 315.91L803.95 324.91M808.45 315.91L808.45 324.91" stroke="#FF99CC" stroke-width="2" fill="none"/>
<path d="M849.74 315.91L858.74 324.91M858.74 315.91L849.74 324.91M854.24 315.91L854.24 324.91" stroke="#FF99CC" stroke-width="2" fill="none"/>
<path d="M895.52 315.91L904.52 324.91M904.52 315.91L895.52 324.91M900.02 315.91L900.02 324.91" stroke="#FF99CC" stroke-width="2" fill="none"/>
<path d="M941.32 315.91L950.32 324.91M950.32 315.91L941.32 324.91M945.82 315.91L945.82 324.91" stroke="#FF99CC" stroke-width="2" fill="none"/>
<path d="M987.11 315.91L996.11 324.91M996.11 315.91L987.11 324.91M991.61 315.91L991.61 324.91" stroke="#FF99CC" stroke-width="2" fill="none"/>
<path d="M121.59 293.71 L167.38 317.18 L213.18 318.64 L258.96 318.74 L304.75 318.74 L350.55 318.74 L396.33 318.74 L442.12 318.74 L487.91 318.74 L533.71 318.74 L579.5 318.74 L625.29 318.74 L671.08 318.74 L716.87 318.74 L762.66 318.74 L808.45 318.74 L854.24 318.74 L900.02 318.74 L945.82 318.74 L991.61 318.74" stroke="#CC99FF" stroke-width="0.7" fill="none" stroke-linejoin="round"/>
<circle cx="121.59" cy="293.71" r="4.25" fill="#CC99FF"/>
<circle cx="167.38" cy="317.18" r="4.25" fill="#CC99FF"/>
<circle cx="213.18" cy="318.64" r="4.25" fill="#CC99FF"/>
<circle cx="258.96" cy="318.74" r="4.25" fill="#CC99FF"/>
<circle cx="304.75" cy="318.74" r="4.25" fill="#CC99FF"/>
<circle cx="350.55" cy="318.74" r="4.25" fill="#CC99FF"/>
<circle cx="396.33" cy="318.74" r="4.25" fill="#CC99FF"/>
<circle cx="442.12" cy="318.74" r="4.25" fill="#CC99FF"/>
<circle cx="487.91" cy="318.74" r="4.25" fill="#CC99FF"/>
<circle cx="533.71" cy="318.74" r="4.25" fill="#CC99FF"/>
<circle cx="579.5" cy="318.74" r="4.25" fill="#CC99FF"/>
<circle cx="625.29" cy="318.74" r="4.25" fill="#CC99FF"/>
<circle cx="671.08" cy="318.74" r="4.25" fill="#CC99FF"/>
<circle cx="716.87" cy="318.74" r="4.25" fill="#CC99FF"/>
<circle cx="762.66" cy="318.74" r="4.25" fill="#CC99FF"/>
<circle cx="808.45" cy="318.74" r="4.25" fill="#CC99FF"/>
<circle cx="854.24" cy="318.74" r="4.25" fill="#CC99FF"/>
<circle cx="900.02" cy="318.74" r="4.25" fill="#CC99FF"/>
<circle cx="945.82" cy="318.74" r="4.25" fill="#CC99FF"/>
<circle cx="991.61" cy="318.74" r="4.25" fill="#CC99FF"/>
<path d="M121.59 293.71 L167.38 315.89 L213.18 317.19 L258.96 317.27 L304.75 317.27 L350.55 317.27 L396.33 317.27 L442.12 317.27 L487.91 317.27 L533.71 317.27 L579.5 317.27 L625.29 317.27 L671.08 317.27 L716.87 317.27 L762.66 317.27 L808.45 317.27 L854.24 317.27 L900.02 317.27 L945.82 317.27 L991.61 317.27" stroke="#FFCC99" stroke-width="0.7" fill="none" stroke-linejoin="round"/>
<path d="M116.59 293.71L126.59 293.71M121.59 288.71L121.59 298.71" stroke="#FFCC99" stroke-width="2" fill="none"/>
<path d="M162.38 315.89L172.38 315.89M167.38 310.89L167.38 320.89" stroke="#FFCC99" stroke-width="2" fill="none"/>
<path d="M208.18 317.19L218.18 317.19M213.18 312.19L213.18 322.19" stroke="#FFCC99" stroke-width="2" fill="none"/>
<path d="M253.96 317.27L263.96 317.27M258.96 312.27L258.96 322.27" stroke="#FFCC99" stroke-width="2" fill="none"/>
<path d="M299.75 317.27L309.75 317.27M304.75 312.27L304.75 322.27" stroke="#FFCC99" stroke-width="2" fill="none"/>
<path d="M345.55 317.27L355.55 317.27M350.55 312.27L350.55 322.27" stroke="#FFCC99" stroke-width="2" fill="none"/>
<path d="M391.33 317.27L401.33 317.27M396.33 312.27L396.33 322.27" stroke="#FFCC99" stroke-width="2" fill="none"/>
<path d="M437.12 317.27L447.12 317.27M442.12 312.27L442.12 322.27" stroke="#FFCC99" stroke-width="2" fill="none"/>
<path d="M482.91 317.27L492.91 317.27M487.91 312.27L487.91 322.27" stroke="#FFCC99" stroke-width="2" fill="none"/>
<path d="M528.71 317.27L538.71 317.27M533.71 312.27L533.71 322.27" stroke="#FFCC99" stroke-width="2" fill="none"/>
<path d="M574.5 317.27L584.5 317.27M579.5 312.27L579.5 322.27" stroke="#FFCC99" stroke-width="2" fill="none"/>
<path d="M620.29 317.27L630.29 317.27M625.29 312.27L625.29 322.27" stroke="#FFCC99" stroke-width="2" fill="none"/>
<path d="M666.08 317.27L676.08 317.27M671.08 312.27L671.08 322.27" stroke="#FFCC99" stroke-width="2" fill="none"/>
<path d="M711.87 317.27L721.87 317.27M716.87 312.27L716.87 322.27" stroke="#FFCC99" stroke-width="2" fill="none"/>
<path d="M757.66 317.27L767.66 317.27M762.66 312.27L762.66 322.27" stroke="#FFCC99" stroke-width="2" fill="none"/>
<path d="M803.45 317.27L813.45 317.27M808.45 312.27L808.45 322.27" stroke="#FFCC99" stroke-width="2" fill="none"/>
<path d="M849.24 317.27L859.24 317.27M854.24 312.27L854.24 322.27" stroke="#FFCC99" stroke-width="2" fill="none"/>
<path d="M895.02 317.27L905.02 317.27M900.02 312.27L900.02 322.27" stroke="#FFCC99" stroke-width="2" fill="none"/>
<path d="M940.82 317.27L950.82 317.27M945.82 312.27L945.82 322.27" stroke="#FFCC99" stroke-width="2" fill="none"/>
<path d="M986.61 317.27L996.61 317.27M991.61 312.27L991.61 322.27" stroke="#FFCC99" stroke-width="2" fill="none"/>
<path d="M121.59 293.71 L167.38 314.73 L213.18 315.89 L258.96 315.96 L304.75 315.96 L350.55 315.96 L396.33 315.96 L442.12 315.96 L487.91 315.96 L533.71 315.96 L579.5 315.96 L625.29 315.96 L671.08 315.96 L716.87 315.96 L762.66 315.96 L808.45 315.96 L854.24 315.96 L900.02 315.96 L945.82 315.96 L991.61 315.96" stroke="#3366FF" stroke-width="0.7" fill="none" stroke-linejoin="round"/>
<rect x="121" y="291.41" width="5.8" height="3.3" fill="#3366FF"/>
<rect x="166.78" y="312.43" width="5.8" height="3.3" fill="#3366FF"/>
<rect x="212.58" y="313.59" width="5.8" height="3.3" fill="#3366FF"/>
<rect x="258.36" y="313.66" width="5.8" height="3.3" fill="#3366FF"/>
<rect x="304.15" y="313.66" width="5.8" height="3.3" fill="#3366FF"/>
<rect x="349.94" y="313.66" width="5.8" height="3.3" fill="#3366FF"/>
<rect x="395.73" y="313.66" width="5.8" height="3.3" fill="#3366FF"/>
<rect x="441.52" y="313.66" width="5.8" height="3.3" fill="#3366FF"/>
<rect x="487.31" y="313.66" width="5.8" height="3.3" fill="#3366FF"/>
<rect x="533.11" y="313.66" width="5.8" height="3.3" fill="#3366FF"/>
<rect x="578.89" y="313.66" width="5.8" height="3.3" fill="#3366FF"/>
<rect x="624.69" y="313.66" width="5.8" height="3.3" fill="#3366FF"/>
<rect x="670.48" y="313.66" width="5.8" height="3.3" fill="#3366FF"/>
<rect x="716.26" y="313.66" width="5.8" height="3.3" fill="#3366FF"/>
<rect x="762.06" y="313.66" width="5.8" height="3.3" fill="#3366FF"/>
<rect x="807.85" y="313.66" width="5.8" height="3.3" fill="#3366FF"/>
<rect x="853.63" y="313.66" width="5.8" height="3.3" fill="#3366FF"/>
<rect x="899.42" y="313.66" width="5.8" height="3.3" fill="#3366FF"/>
<rect x="945.22" y="313.66" width="5.8" height="3.3" fill="#3366FF"/>
<rect x="991" y="313.66" width="5.8" height="3.3" fill="#3366FF"/>
<path d="M121.59 293.71 L167.38 313.68 L213.18 314.73 L258.96 314.79 L304.75 314.79 L350.55 314.79 L396.33 314.79 L442.12 314.79 L487.91 314.79 L533.71 314.79 L579.5 314.79 L625.29 314.79 L671.08 314.79 L716.87 314.79 L762.66 314.79 L808.45 314.79 L854.24 314.79 L900.02 314.79 L945.82 314.79 L991.61 314.79" stroke="#33CCCC" stroke-width="0.7" fill="none" stroke-linejoin="round"/>
<rect x="117.09" y="291.31" width="9" height="3" fill="#33CCCC"/>
<rect x="162.88" y="311.28" width="9" height="3" fill="#33CCCC"/>
<rect x="208.68" y="312.33" width="9" height="3" fill="#33CCCC"/>
<rect x="254.46" y="312.39" width="9" height="3" fill="#33CCCC"/>
<rect x="300.25" y="312.39" width="9" height="3" fill="#33CCCC"/>
<rect x="346.05" y="312.39" width="9" height="3" fill="#33CCCC"/>
<rect x="391.83" y="312.39" width="9" height="3" fill="#33CCCC"/>
<rect x="437.62" y="312.39" width="9" height="3" fill="#33CCCC"/>
<rect x="483.41" y="312.39" width="9" height="3" fill="#33CCCC"/>
<rect x="529.21" y="312.39" width="9" height="3" fill="#33CCCC"/>
<rect x="575" y="312.39" width="9" height="3" fill="#33CCCC"/>
<rect x="620.79" y="312.39" width="9" height="3" fill="#33CCCC"/>
<rect x="666.58" y="312.39" width="9" height="3" fill="#33CCCC"/>
<rect x="712.37" y="312.39" width="9" height="3" fill="#33CCCC"/>
<rect x="758.16" y="312.39" width="9" height="3" fill="#33CCCC"/>
<rect x="803.95" y="312.39" width="9" height="3" fill="#33CCCC"/>
<rect x="849.74" y="312.39" width="9" height="3" fill="#33CCCC"/>
<rect x="895.52" y="312.39" width="9" height="3" fill="#33CCCC"/>
<rect x="941.32" y="312.39" width="9" height="3" fill="#33CCCC"/>
<rect x="987.11" y="312.39" width="9" height="3" fill="#33CCCC"/>
<path d="M121.59 293.71 L167.38 312.74 L213.18 313.68 L258.96 313.73 L304.75 313.74 L350.55 313.74 L396.33 313.74 L442.12 313.74 L487.91 313.74 L533.71 313.74 L579.5 313.74 L625.29 313.74 L671.08 313.74 L716.87 313.74 L762.66 313.74 L808.45 313.74 L854.24 313.74 L900.02 313.74 L945.82 313.74 L991.61 313.74" stroke="#99CC00" stroke-width="3" fill="none" stroke-linejoin="round"/>
<path d="M121.59 288.21L127.09 293.71L121.59 299.21L116.09 293.71Z" fill="#99CC00"/>
<path d="M167.38 307.24L172.88 312.74L167.38 318.24L161.88 312.74Z" fill="#99CC00"/>
<path d="M213.18 308.18L218.68 313.68L213.18 319.18L207.68 313.68Z" fill="#99CC00"/>
<path d="M258.96 308.23L264.46 313.73L258.96 319.23L253.46 313.73Z" fill="#99CC00"/>
<path d="M304.75 308.24L310.25 313.74L304.75 319.24L299.25 313.74Z" fill="#99CC00"/>
<path d="M350.55 308.24L356.05 313.74L350.55 319.24L345.05 313.74Z" fill="#99CC00"/>
<path d="M396.33 308.24L401.83 313.74L396.33 319.24L390.83 313.74Z" fill="#99CC00"/>
<path d="M442.12 308.24L447.62 313.74L442.12 319.24L436.62 313.74Z" fill="#99CC00"/>
<path d="M487.91 308.24L493.41 313.74L487.91 319.24L482.41 313.74Z" fill="#99CC00"/>
<path d="M533.71 308.24L539.21 313.74L533.71 319.24L528.21 313.74Z" fill="#99CC00"/>
<path d="M579.5 308.24L585 313.74L579.5 319.24L574 313.74Z" fill="#99CC00"/>
<path d="M625.29 308.24L630.79 313.74L625.29 319.24L619.79 313.74Z" fill="#99CC00"/>
<path d="M671.08 308.24L676.58 313.74L671.08 319.24L665.58 313.74Z" fill="#99CC00"/>
<path d="M716.87 308.24L722.37 313.74L716.87 319.24L711.37 313.74Z" fill="#99CC00"/>
<path d="M762.66 308.24L768.16 313.74L762.66 319.24L757.16 313.74Z" fill="#99CC00"/>
<path d="M808.45 308.24L813.95 313.74L808.45 319.24L802.95 313.74Z" fill="#99CC00"/>
<path d="M854.24 308.24L859.74 313.74L854.24 319.24L848.74 313.74Z" fill="#99CC00"/>
<path d="M900.02 308.24L905.52 313.74L900.02 319.24L894.52 313.74Z" fill="#99CC00"/>
<path d="M945.82 308.24L951.32 313.74L945.82 319.24L940.32 313.74Z" fill="#99CC00"/>
<path d="M991.61 308.24L997.11 313.74L991.61 319.24L986.11 313.74Z" fill="#99CC00"/>
<path d="M121.59 293.71 L167.38 311.88 L213.18 312.74 L258.96 312.78 L304.75 312.78 L350.55 312.78 L396.33 312.78 L442.12 312.78 L487.91 312.78 L533.71 312.78 L579.5 312.78 L625.29 312.78 L671.08 312.78 L716.87 312.78 L762.66 312.78 L808.45 312.78 L854.24 312.78 L900.02 312.78 L945.82 312.78 L991.61 312.78" stroke="#FFCC00" stroke-width="0.7" fill="none" stroke-linejoin="round"/>
<rect x="117.59" y="288.51" width="8" height="8" fill="#FFCC00"/>
<rect x="163.38" y="306.68" width="8" height="8" fill="#FFCC00"/>
<rect x="209.18" y="307.54" width="8" height="8" fill="#FFCC00"/>
<rect x="254.96" y="307.58" width="8" height="8" fill="#FFCC00"/>
<rect x="300.75" y="307.58" width="8" height="8" fill="#FFCC00"/>
<rect x="346.55" y="307.58" width="8" height="8" fill="#FFCC00"/>
<rect x="392.33" y="307.58" width="8" height="8" fill="#FFCC00"/>
<rect x="438.12" y="307.58" width="8" height="8" fill="#FFCC00"/>
<rect x="483.91" y="307.58" width="8" height="8" fill="#FFCC00"/>
<rect x="529.71" y="307.58" width="8" height="8" fill="#FFCC00"/>
<rect x="575.5" y="307.58" width="8" height="8" fill="#FFCC00"/>
<rect x="621.29" y="307.58" width="8" height="8" fill="#FFCC00"/>
<rect x="667.08" y="307.58" width="8" height="8" fill="#FFCC00"/>
<rect x="712.87" y="307.58" width="8" height="8" fill="#FFCC00"/>
<rect x="758.66" y="307.58" width="8" height="8" fill="#FFCC00"/>
<rect x="804.45" y="307.58" width="8" height="8" fill="#FFCC00"/>
<rect x="850.24" y="307.58" width="8" height="8" fill="#FFCC00"/>
<rect x="896.02" y="307.58" width="8" height="8" fill="#FFCC00"/>
<rect x="941.82" y="307.58" width="8" height="8" fill="#FFCC00"/>
<rect x="987.61" y="307.58" width="8" height="8" fill="#FFCC00"/>
<path d="M98.7 711H1011V1225" stroke="#808080" stroke-width="2" fill="none"/>
<path d="M92.7 1225H98.7 M92.7 1173.6H98.7 M92.7 1122.2H98.7 M92.7 1070.8H98.7 M92.7 1019.4H98.7 M92.7 968H98.7 M92.7 916.6H98.7 M92.7 865.2H98.7 M92.7 813.8H98.7 M92.7 762.4H98.7 M92.7 711H98.7 M98.7 1225V1230.9 M144.31 1225V1230.9 M189.93 1225V1230.9 M235.54 1225V1230.9 M281.16 1225V1230.9 M326.77 1225V1230.9 M372.39 1225V1230.9 M418 1225V1230.9 M463.62 1225V1230.9 M509.23 1225V1230.9 M554.85 1225V1230.9 M600.46 1225V1230.9 M646.08 1225V1230.9 M691.69 1225V1230.9 M737.31 1225V1230.9 M782.92 1225V1230.9 M828.54 1225V1230.9 M874.15 1225V1230.9 M919.77 1225V1230.9 M965.38 1225V1230.9 M1011 1225V1230.9" stroke="#9a9a9a" stroke-width="1.2" fill="none"/>
<path d="M98.7 711V1225H1011" stroke="#595959" stroke-width="1.9" fill="none"/>
<text transform="translate(83 1232.8) scale(1 1.08)" text-anchor="end" font-size="21.5">0.0</text>
<text transform="translate(83 1181.4) scale(1 1.08)" text-anchor="end" font-size="21.5">0.5</text>
<text transform="translate(83 1130) scale(1 1.08)" text-anchor="end" font-size="21.5">1.0</text>
<text transform="translate(83 1078.6) scale(1 1.08)" text-anchor="end" font-size="21.5">1.5</text>
<text transform="translate(83 1027.2) scale(1 1.08)" text-anchor="end" font-size="21.5">2.0</text>
<text transform="translate(83 975.8) scale(1 1.08)" text-anchor="end" font-size="21.5">2.5</text>
<text transform="translate(83 924.4) scale(1 1.08)" text-anchor="end" font-size="21.5">3.0</text>
<text transform="translate(83 873) scale(1 1.08)" text-anchor="end" font-size="21.5">3.5</text>
<text transform="translate(83 821.6) scale(1 1.08)" text-anchor="end" font-size="21.5">4.0</text>
<text transform="translate(83 770.2) scale(1 1.08)" text-anchor="end" font-size="21.5">4.5</text>
<text transform="translate(83 718.8) scale(1 1.08)" text-anchor="end" font-size="21.5">5.0</text>
<text transform="translate(122.31 1267.5) scale(1 1.08)" text-anchor="middle" font-size="21.5">1</text>
<text transform="translate(167.92 1267.5) scale(1 1.08)" text-anchor="middle" font-size="21.5">2</text>
<text transform="translate(213.54 1267.5) scale(1 1.08)" text-anchor="middle" font-size="21.5">3</text>
<text transform="translate(259.15 1267.5) scale(1 1.08)" text-anchor="middle" font-size="21.5">4</text>
<text transform="translate(304.77 1267.5) scale(1 1.08)" text-anchor="middle" font-size="21.5">5</text>
<text transform="translate(350.38 1267.5) scale(1 1.08)" text-anchor="middle" font-size="21.5">6</text>
<text transform="translate(396 1267.5) scale(1 1.08)" text-anchor="middle" font-size="21.5">7</text>
<text transform="translate(441.61 1267.5) scale(1 1.08)" text-anchor="middle" font-size="21.5">8</text>
<text transform="translate(487.23 1267.5) scale(1 1.08)" text-anchor="middle" font-size="21.5">9</text>
<text transform="translate(532.84 1267.5) scale(1 1.08)" text-anchor="middle" font-size="21.5">10</text>
<text transform="translate(578.46 1267.5) scale(1 1.08)" text-anchor="middle" font-size="21.5">11</text>
<text transform="translate(624.07 1267.5) scale(1 1.08)" text-anchor="middle" font-size="21.5">12</text>
<text transform="translate(669.69 1267.5) scale(1 1.08)" text-anchor="middle" font-size="21.5">13</text>
<text transform="translate(715.3 1267.5) scale(1 1.08)" text-anchor="middle" font-size="21.5">14</text>
<text transform="translate(760.92 1267.5) scale(1 1.08)" text-anchor="middle" font-size="21.5">15</text>
<text transform="translate(806.53 1267.5) scale(1 1.08)" text-anchor="middle" font-size="21.5">16</text>
<text transform="translate(852.15 1267.5) scale(1 1.08)" text-anchor="middle" font-size="21.5">17</text>
<text transform="translate(897.76 1267.5) scale(1 1.08)" text-anchor="middle" font-size="21.5">18</text>
<text transform="translate(943.38 1267.5) scale(1 1.08)" text-anchor="middle" font-size="21.5">19</text>
<text transform="translate(988.99 1267.5) scale(1 1.08)" text-anchor="middle" font-size="21.5">20</text>
<path d="M121.51 1225 L167.12 1122.2 L212.74 1062.07 L258.35 1019.4 L303.97 986.31 L349.58 959.27 L395.2 936.4 L440.81 916.6 L486.43 899.13 L532.04 883.51 L577.66 869.37 L623.27 856.47 L668.89 844.59 L714.5 833.6 L760.12 823.37 L805.73 813.8 L851.35 804.81 L896.96 796.33 L942.58 788.31 L988.19 780.71" stroke="#000080" stroke-width="2" fill="none" stroke-linejoin="round"/>
<path d="M121.51 1220L126.51 1225L121.51 1230L116.51 1225Z" fill="#000080"/>
<path d="M167.12 1117.2L172.12 1122.2L167.12 1127.2L162.12 1122.2Z" fill="#000080"/>
<path d="M212.74 1057.07L217.74 1062.07L212.74 1067.07L207.74 1062.07Z" fill="#000080"/>
<path d="M258.35 1014.4L263.35 1019.4L258.35 1024.4L253.35 1019.4Z" fill="#000080"/>
<path d="M303.97 981.31L308.97 986.31L303.97 991.31L298.97 986.31Z" fill="#000080"/>
<path d="M349.58 954.27L354.58 959.27L349.58 964.27L344.58 959.27Z" fill="#000080"/>
<path d="M395.2 931.4L400.2 936.4L395.2 941.4L390.2 936.4Z" fill="#000080"/>
<path d="M440.81 911.6L445.81 916.6L440.81 921.6L435.81 916.6Z" fill="#000080"/>
<path d="M486.43 894.13L491.43 899.13L486.43 904.13L481.43 899.13Z" fill="#000080"/>
<path d="M532.04 878.51L537.04 883.51L532.04 888.51L527.04 883.51Z" fill="#000080"/>
<path d="M577.66 864.37L582.66 869.37L577.66 874.37L572.66 869.37Z" fill="#000080"/>
<path d="M623.27 851.47L628.27 856.47L623.27 861.47L618.27 856.47Z" fill="#000080"/>
<path d="M668.89 839.59L673.89 844.59L668.89 849.59L663.89 844.59Z" fill="#000080"/>
<path d="M714.5 828.6L719.5 833.6L714.5 838.6L709.5 833.6Z" fill="#000080"/>
<path d="M760.12 818.37L765.12 823.37L760.12 828.37L755.12 823.37Z" fill="#000080"/>
<path d="M805.73 808.8L810.73 813.8L805.73 818.8L800.73 813.8Z" fill="#000080"/>
<path d="M851.35 799.81L856.35 804.81L851.35 809.81L846.35 804.81Z" fill="#000080"/>
<path d="M896.96 791.33L901.96 796.33L896.96 801.33L891.96 796.33Z" fill="#000080"/>
<path d="M942.58 783.31L947.58 788.31L942.58 793.31L937.58 788.31Z" fill="#000080"/>
<path d="M988.19 775.71L993.19 780.71L988.19 785.71L983.19 780.71Z" fill="#000080"/>
<path d="M121.51 1122.2 L167.12 1027.8 L212.74 980.46 L258.35 953.58 L303.97 937.89 L349.58 928.73 L395.2 923.43 L440.81 920.41 L486.43 918.7 L532.04 917.75 L577.66 917.22 L623.27 916.94 L668.89 916.78 L714.5 916.7 L760.12 916.65 L805.73 916.63 L851.35 916.61 L896.96 916.61 L942.58 916.6 L988.19 916.6" stroke="#FF00FF" stroke-width="2" fill="none" stroke-linejoin="round"/>
<rect x="117.51" y="1117.9" width="8" height="8" fill="#FF00FF"/>
<rect x="163.12" y="1023.5" width="8" height="8" fill="#FF00FF"/>
<rect x="208.74" y="976.16" width="8" height="8" fill="#FF00FF"/>
<rect x="254.35" y="949.28" width="8" height="8" fill="#FF00FF"/>
<rect x="299.97" y="933.59" width="8" height="8" fill="#FF00FF"/>
<rect x="345.58" y="924.43" width="8" height="8" fill="#FF00FF"/>
<rect x="391.2" y="919.13" width="8" height="8" fill="#FF00FF"/>
<rect x="436.81" y="916.11" width="8" height="8" fill="#FF00FF"/>
<rect x="482.43" y="914.4" width="8" height="8" fill="#FF00FF"/>
<rect x="528.04" y="913.45" width="8" height="8" fill="#FF00FF"/>
<rect x="573.66" y="912.92" width="8" height="8" fill="#FF00FF"/>
<rect x="619.27" y="912.64" width="8" height="8" fill="#FF00FF"/>
<rect x="664.89" y="912.48" width="8" height="8" fill="#FF00FF"/>
<rect x="710.5" y="912.4" width="8" height="8" fill="#FF00FF"/>
<rect x="756.12" y="912.35" width="8" height="8" fill="#FF00FF"/>
<rect x="801.73" y="912.33" width="8" height="8" fill="#FF00FF"/>
<rect x="847.35" y="912.31" width="8" height="8" fill="#FF00FF"/>
<rect x="892.96" y="912.31" width="8" height="8" fill="#FF00FF"/>
<rect x="938.58" y="912.3" width="8" height="8" fill="#FF00FF"/>
<rect x="984.19" y="912.3" width="8" height="8" fill="#FF00FF"/>
<path d="M121.51 1122.2 L167.12 1038.8 L212.74 1005 L258.35 990.59 L303.97 984.58 L349.58 982.15 L395.2 981.19 L440.81 980.82 L486.43 980.68 L532.04 980.63 L577.66 980.61 L623.27 980.6 L668.89 980.6 L714.5 980.6 L760.12 980.6 L805.73 980.6 L851.35 980.6 L896.96 980.6 L942.58 980.6 L988.19 980.6" stroke="#FFFF00" stroke-width="2" fill="none" stroke-linejoin="round"/>
<path d="M121.51 1117.2L126.51 1126.7L116.51 1126.7Z" fill="#FFFF00"/>
<path d="M167.12 1033.8L172.12 1043.3L162.12 1043.3Z" fill="#FFFF00"/>
<path d="M212.74 1000L217.74 1009.5L207.74 1009.5Z" fill="#FFFF00"/>
<path d="M258.35 985.59L263.35 995.09L253.35 995.09Z" fill="#FFFF00"/>
<path d="M303.97 979.58L308.97 989.08L298.97 989.08Z" fill="#FFFF00"/>
<path d="M349.58 977.15L354.58 986.65L344.58 986.65Z" fill="#FFFF00"/>
<path d="M395.2 976.19L400.2 985.69L390.2 985.69Z" fill="#FFFF00"/>
<path d="M440.81 975.82L445.81 985.32L435.81 985.32Z" fill="#FFFF00"/>
<path d="M486.43 975.68L491.43 985.18L481.43 985.18Z" fill="#FFFF00"/>
<path d="M532.04 975.63L537.04 985.13L527.04 985.13Z" fill="#FFFF00"/>
<path d="M577.66 975.61L582.66 985.11L572.66 985.11Z" fill="#FFFF00"/>
<path d="M623.27 975.6L628.27 985.1L618.27 985.1Z" fill="#FFFF00"/>
<path d="M668.89 975.6L673.89 985.1L663.89 985.1Z" fill="#FFFF00"/>
<path d="M714.5 975.6L719.5 985.1L709.5 985.1Z" fill="#FFFF00"/>
<path d="M760.12 975.6L765.12 985.1L755.12 985.1Z" fill="#FFFF00"/>
<path d="M805.73 975.6L810.73 985.1L800.73 985.1Z" fill="#FFFF00"/>
<path d="M851.35 975.6L856.35 985.1L846.35 985.1Z" fill="#FFFF00"/>
<path d="M896.96 975.6L901.96 985.1L891.96 985.1Z" fill="#FFFF00"/>
<path d="M942.58 975.6L947.58 985.1L937.58 985.1Z" fill="#FFFF00"/>
<path d="M988.19 975.6L993.19 985.1L983.19 985.1Z" fill="#FFFF00"/>
<path d="M121.51 1122.2 L167.12 1047.99 L212.74 1023.13 L258.35 1014.81 L303.97 1012.15 L349.58 1011.34 L395.2 1011.1 L440.81 1011.03 L486.43 1011.01 L532.04 1011 L577.66 1011 L623.27 1011 L668.89 1011 L714.5 1011 L760.12 1011 L805.73 1011 L851.35 1011 L896.96 1011 L942.58 1011 L988.19 1011" stroke="#00FFFF" stroke-width="2" fill="none" stroke-linejoin="round"/>
<path d="M117.01 1117.7L126.01 1126.7M126.01 1117.7L117.01 1126.7" stroke="#00FFFF" stroke-width="2" fill="none"/>
<path d="M162.62 1043.49L171.62 1052.49M171.62 1043.49L162.62 1052.49" stroke="#00FFFF" stroke-width="2" fill="none"/>
<path d="M208.24 1018.63L217.24 1027.63M217.24 1018.63L208.24 1027.63" stroke="#00FFFF" stroke-width="2" fill="none"/>
<path d="M253.85 1010.31L262.85 1019.31M262.85 1010.31L253.85 1019.31" stroke="#00FFFF" stroke-width="2" fill="none"/>
<path d="M299.47 1007.65L308.47 1016.65M308.47 1007.65L299.47 1016.65" stroke="#00FFFF" stroke-width="2" fill="none"/>
<path d="M345.08 1006.84L354.08 1015.84M354.08 1006.84L345.08 1015.84" stroke="#00FFFF" stroke-width="2" fill="none"/>
<path d="M390.7 1006.6L399.7 1015.6M399.7 1006.6L390.7 1015.6" stroke="#00FFFF" stroke-width="2" fill="none"/>
<path d="M436.31 1006.53L445.31 1015.53M445.31 1006.53L436.31 1015.53" stroke="#00FFFF" stroke-width="2" fill="none"/>
<path d="M481.93 1006.51L490.93 1015.51M490.93 1006.51L481.93 1015.51" stroke="#00FFFF" stroke-width="2" fill="none"/>
<path d="M527.54 1006.5L536.54 1015.5M536.54 1006.5L527.54 1015.5" stroke="#00FFFF" stroke-width="2" fill="none"/>
<path d="M573.16 1006.5L582.16 1015.5M582.16 1006.5L573.16 1015.5" stroke="#00FFFF" stroke-width="2" fill="none"/>
<path d="M618.77 1006.5L627.77 1015.5M627.77 1006.5L618.77 1015.5" stroke="#00FFFF" stroke-width="2" fill="none"/>
<path d="M664.39 1006.5L673.39 1015.5M673.39 1006.5L664.39 1015.5" stroke="#00FFFF" stroke-width="2" fill="none"/>
<path d="M710 1006.5L719 1015.5M719 1006.5L710 1015.5" stroke="#00FFFF" stroke-width="2" fill="none"/>
<path d="M755.62 1006.5L764.62 1015.5M764.62 1006.5L755.62 1015.5" stroke="#00FFFF" stroke-width="2" fill="none"/>
<path d="M801.23 1006.5L810.23 1015.5M810.23 1006.5L801.23 1015.5" stroke="#00FFFF" stroke-width="2" fill="none"/>
<path d="M846.85 1006.5L855.85 1015.5M855.85 1006.5L846.85 1015.5" stroke="#00FFFF" stroke-width="2" fill="none"/>
<path d="M892.46 1006.5L901.46 1015.5M901.46 1006.5L892.46 1015.5" stroke="#00FFFF" stroke-width="2" fill="none"/>
<path d="M938.08 1006.5L947.08 1015.5M947.08 1006.5L938.08 1015.5" stroke="#00FFFF" stroke-width="2" fill="none"/>
<path d="M983.69 1006.5L992.69 1015.5M992.69 1006.5L983.69 1015.5" stroke="#00FFFF" stroke-width="2" fill="none"/>
<path d="M121.51 1122.2 L167.12 1055.38 L212.74 1036.4 L258.35 1031.2 L303.97 1029.86 L349.58 1029.53 L395.2 1029.46 L440.81 1029.44 L486.43 1029.43 L532.04 1029.43 L577.66 1029.43 L623.27 1029.43 L668.89 1029.43 L714.5 1029.43 L760.12 1029.43 L805.73 1029.43 L851.35 1029.43 L896.96 1029.43 L942.58 1029.43 L988.19 1029.43" stroke="#800080" stroke-width="2" fill="none" stroke-linejoin="round"/>
<path d="M117.01 1117.7L126.01 1126.7M126.01 1117.7L117.01 1126.7M121.51 1117.7L121.51 1126.7" stroke="#800080" stroke-width="2" fill="none"/>
<path d="M162.62 1050.88L171.62 1059.88M171.62 1050.88L162.62 1059.88M167.12 1050.88L167.12 1059.88" stroke="#800080" stroke-width="2" fill="none"/>
<path d="M208.24 1031.9L217.24 1040.9M217.24 1031.9L208.24 1040.9M212.74 1031.9L212.74 1040.9" stroke="#800080" stroke-width="2" fill="none"/>
<path d="M253.85 1026.7L262.85 1035.7M262.85 1026.7L253.85 1035.7M258.35 1026.7L258.35 1035.7" stroke="#800080" stroke-width="2" fill="none"/>
<path d="M299.47 1025.36L308.47 1034.36M308.47 1025.36L299.47 1034.36M303.97 1025.36L303.97 1034.36" stroke="#800080" stroke-width="2" fill="none"/>
<path d="M345.08 1025.03L354.08 1034.03M354.08 1025.03L345.08 1034.03M349.58 1025.03L349.58 1034.03" stroke="#800080" stroke-width="2" fill="none"/>
<path d="M390.7 1024.96L399.7 1033.96M399.7 1024.96L390.7 1033.96M395.2 1024.96L395.2 1033.96" stroke="#800080" stroke-width="2" fill="none"/>
<path d="M436.31 1024.94L445.31 1033.94M445.31 1024.94L436.31 1033.94M440.81 1024.94L440.81 1033.94" stroke="#800080" stroke-width="2" fill="none"/>
<path d="M481.93 1024.93L490.93 1033.93M490.93 1024.93L481.93 1033.93M486.43 1024.93L486.43 1033.93" stroke="#800080" stroke-width="2" fill="none"/>
<path d="M527.54 1024.93L536.54 1033.93M536.54 1024.93L527.54 1033.93M532.04 1024.93L532.04 1033.93" stroke="#800080" stroke-width="2" fill="none"/>
<path d="M573.16 1024.93L582.16 1033.93M582.16 1024.93L573.16 1033.93M577.66 1024.93L577.66 1033.93" stroke="#800080" stroke-width="2" fill="none"/>
<path d="M618.77 1024.93L627.77 1033.93M627.77 1024.93L618.77 1033.93M623.27 1024.93L623.27 1033.93" stroke="#800080" stroke-width="2" fill="none"/>
<path d="M664.39 1024.93L673.39 1033.93M673.39 1024.93L664.39 1033.93M668.89 1024.93L668.89 1033.93" stroke="#800080" stroke-width="2" fill="none"/>
<path d="M710 1024.93L719 1033.93M719 1024.93L710 1033.93M714.5 1024.93L714.5 1033.93" stroke="#800080" stroke-width="2" fill="none"/>
<path d="M755.62 1024.93L764.62 1033.93M764.62 1024.93L755.62 1033.93M760.12 1024.93L760.12 1033.93" stroke="#800080" stroke-width="2" fill="none"/>
<path d="M801.23 1024.93L810.23 1033.93M810.23 1024.93L801.23 1033.93M805.73 1024.93L805.73 1033.93" stroke="#800080" stroke-width="2" fill="none"/>
<path d="M846.85 1024.93L855.85 1033.93M855.85 1024.93L846.85 1033.93M851.35 1024.93L851.35 1033.93" stroke="#800080" stroke-width="2" fill="none"/>
<path d="M892.46 1024.93L901.46 1033.93M901.46 1024.93L892.46 1033.93M896.96 1024.93L896.96 1033.93" stroke="#800080" stroke-width="2" fill="none"/>
<path d="M938.08 1024.93L947.08 1033.93M947.08 1024.93L938.08 1033.93M942.58 1024.93L942.58 1033.93" stroke="#800080" stroke-width="2" fill="none"/>
<path d="M983.69 1024.93L992.69 1033.93M992.69 1024.93L983.69 1033.93M988.19 1024.93L988.19 1033.93" stroke="#800080" stroke-width="2" fill="none"/>
<path d="M121.51 1122.2 L167.12 1061.38 L212.74 1046.41 L258.35 1042.95 L303.97 1042.2 L349.58 1042.05 L395.2 1042.02 L440.81 1042.01 L486.43 1042.01 L532.04 1042.01 L577.66 1042.01 L623.27 1042.01 L668.89 1042.01 L714.5 1042.01 L760.12 1042.01 L805.73 1042.01 L851.35 1042.01 L896.96 1042.01 L942.58 1042.01 L988.19 1042.01" stroke="#800000" stroke-width="2" fill="none" stroke-linejoin="round"/>
<circle cx="121.51" cy="1122.2" r="4.25" fill="#800000"/>
<circle cx="167.12" cy="1061.38" r="4.25" fill="#800000"/>
<circle cx="212.74" cy="1046.41" r="4.25" fill="#800000"/>
<circle cx="258.35" cy="1042.95" r="4.25" fill="#800000"/>
<circle cx="303.97" cy="1042.2" r="4.25" fill="#800000"/>
<circle cx="349.58" cy="1042.05" r="4.25" fill="#800000"/>
<circle cx="395.2" cy="1042.02" r="4.25" fill="#800000"/>
<circle cx="440.81" cy="1042.01" r="4.25" fill="#800000"/>
<circle cx="486.43" cy="1042.01" r="4.25" fill="#800000"/>
<circle cx="532.04" cy="1042.01" r="4.25" fill="#800000"/>
<circle cx="577.66" cy="1042.01" r="4.25" fill="#800000"/>
<circle cx="623.27" cy="1042.01" r="4.25" fill="#800000"/>
<circle cx="668.89" cy="1042.01" r="4.25" fill="#800000"/>
<circle cx="714.5" cy="1042.01" r="4.25" fill="#800000"/>
<circle cx="760.12" cy="1042.01" r="4.25" fill="#800000"/>
<circle cx="805.73" cy="1042.01" r="4.25" fill="#800000"/>
<circle cx="851.35" cy="1042.01" r="4.25" fill="#800000"/>
<circle cx="896.96" cy="1042.01" r="4.25" fill="#800000"/>
<circle cx="942.58" cy="1042.01" r="4.25" fill="#800000"/>
<circle cx="988.19" cy="1042.01" r="4.25" fill="#800000"/>
<path d="M121.51 1122.2 L167.12 1066.32 L212.74 1054.2 L258.35 1051.78 L303.97 1051.33 L349.58 1051.25 L395.2 1051.24 L440.81 1051.24 L486.43 1051.24 L532.04 1051.24 L577.66 1051.24 L623.27 1051.24 L668.89 1051.24 L714.5 1051.24 L760.12 1051.24 L805.73 1051.24 L851.35 1051.24 L896.96 1051.24 L942.58 1051.24 L988.19 1051.24" stroke="#008080" stroke-width="2" fill="none" stroke-linejoin="round"/>
<path d="M116.51 1122.2L126.51 1122.2M121.51 1117.2L121.51 1127.2" stroke="#008080" stroke-width="2" fill="none"/>
<path d="M162.12 1066.32L172.12 1066.32M167.12 1061.32L167.12 1071.32" stroke="#008080" stroke-width="2" fill="none"/>
<path d="M207.74 1054.2L217.74 1054.2M212.74 1049.2L212.74 1059.2" stroke="#008080" stroke-width="2" fill="none"/>
<path d="M253.35 1051.78L263.35 1051.78M258.35 1046.78L258.35 1056.78" stroke="#008080" stroke-width="2" fill="none"/>
<path d="M298.97 1051.33L308.97 1051.33M303.97 1046.33L303.97 1056.33" stroke="#008080" stroke-width="2" fill="none"/>
<path d="M344.58 1051.25L354.58 1051.25M349.58 1046.25L349.58 1056.25" stroke="#008080" stroke-width="2" fill="none"/>
<path d="M390.2 1051.24L400.2 1051.24M395.2 1046.24L395.2 1056.24" stroke="#008080" stroke-width="2" fill="none"/>
<path d="M435.81 1051.24L445.81 1051.24M440.81 1046.24L440.81 1056.24" stroke="#008080" stroke-width="2" fill="none"/>
<path d="M481.43 1051.24L491.43 1051.24M486.43 1046.24L486.43 1056.24" stroke="#008080" stroke-width="2" fill="none"/>
<path d="M527.04 1051.24L537.04 1051.24M532.04 1046.24L532.04 1056.24" stroke="#008080" stroke-width="2" fill="none"/>
<path d="M572.66 1051.24L582.66 1051.24M577.66 1046.24L577.66 1056.24" stroke="#008080" stroke-width="2" fill="none"/>
<path d="M618.27 1051.24L628.27 1051.24M623.27 1046.24L623.27 1056.24" stroke="#008080" stroke-width="2" fill="none"/>
<path d="M663.89 1051.24L673.89 1051.24M668.89 1046.24L668.89 1056.24" stroke="#008080" stroke-width="2" fill="none"/>
<path d="M709.5 1051.24L719.5 1051.24M714.5 1046.24L714.5 1056.24" stroke="#008080" stroke-width="2" fill="none"/>
<path d="M755.12 1051.24L765.12 1051.24M760.12 1046.24L760.12 1056.24" stroke="#008080" stroke-width="2" fill="none"/>
<path d="M800.73 1051.24L810.73 1051.24M805.73 1046.24L805.73 1056.24" stroke="#008080" stroke-width="2" fill="none"/>
<path d="M846.35 1051.24L856.35 1051.24M851.35 1046.24L851.35 1056.24" stroke="#008080" stroke-width="2" fill="none"/>
<path d="M891.96 1051.24L901.96 1051.24M896.96 1046.24L896.96 1056.24" stroke="#008080" stroke-width="2" fill="none"/>
<path d="M937.58 1051.24L947.58 1051.24M942.58 1046.24L942.58 1056.24" stroke="#008080" stroke-width="2" fill="none"/>
<path d="M983.19 1051.24L993.19 1051.24M988.19 1046.24L988.19 1056.24" stroke="#008080" stroke-width="2" fill="none"/>
<path d="M121.51 1122.2 L167.12 1070.47 L212.74 1060.44 L258.35 1058.68 L303.97 1058.39 L349.58 1058.35 L395.2 1058.34 L440.81 1058.34 L486.43 1058.34 L532.04 1058.34 L577.66 1058.34 L623.27 1058.34 L668.89 1058.34 L714.5 1058.34 L760.12 1058.34 L805.73 1058.34 L851.35 1058.34 L896.96 1058.34 L942.58 1058.34 L988.19 1058.34" stroke="#0000FF" stroke-width="2" fill="none" stroke-linejoin="round"/>
<rect x="120.91" y="1119.9" width="5.8" height="3.3" fill="#0000FF"/>
<rect x="166.52" y="1068.17" width="5.8" height="3.3" fill="#0000FF"/>
<rect x="212.14" y="1058.14" width="5.8" height="3.3" fill="#0000FF"/>
<rect x="257.75" y="1056.38" width="5.8" height="3.3" fill="#0000FF"/>
<rect x="303.37" y="1056.09" width="5.8" height="3.3" fill="#0000FF"/>
<rect x="348.98" y="1056.05" width="5.8" height="3.3" fill="#0000FF"/>
<rect x="394.6" y="1056.04" width="5.8" height="3.3" fill="#0000FF"/>
<rect x="440.21" y="1056.04" width="5.8" height="3.3" fill="#0000FF"/>
<rect x="485.83" y="1056.04" width="5.8" height="3.3" fill="#0000FF"/>
<rect x="531.44" y="1056.04" width="5.8" height="3.3" fill="#0000FF"/>
<rect x="577.06" y="1056.04" width="5.8" height="3.3" fill="#0000FF"/>
<rect x="622.67" y="1056.04" width="5.8" height="3.3" fill="#0000FF"/>
<rect x="668.29" y="1056.04" width="5.8" height="3.3" fill="#0000FF"/>
<rect x="713.9" y="1056.04" width="5.8" height="3.3" fill="#0000FF"/>
<rect x="759.52" y="1056.04" width="5.8" height="3.3" fill="#0000FF"/>
<rect x="805.13" y="1056.04" width="5.8" height="3.3" fill="#0000FF"/>
<rect x="850.75" y="1056.04" width="5.8" height="3.3" fill="#0000FF"/>
<rect x="896.36" y="1056.04" width="5.8" height="3.3" fill="#0000FF"/>
<rect x="941.98" y="1056.04" width="5.8" height="3.3" fill="#0000FF"/>
<rect x="987.59" y="1056.04" width="5.8" height="3.3" fill="#0000FF"/>
<path d="M121.51 1122.2 L167.12 1073.99 L212.74 1065.54 L258.35 1064.22 L303.97 1064.03 L349.58 1064 L395.2 1064 L440.81 1064 L486.43 1064 L532.04 1064 L577.66 1064 L623.27 1064 L668.89 1064 L714.5 1064 L760.12 1064 L805.73 1064 L851.35 1064 L896.96 1064 L942.58 1064 L988.19 1064" stroke="#00CCFF" stroke-width="2" fill="none" stroke-linejoin="round"/>
<rect x="116.26" y="1119.8" width="10.5" height="3" fill="#00CCFF"/>
<rect x="161.87" y="1071.59" width="10.5" height="3" fill="#00CCFF"/>
<rect x="207.49" y="1063.14" width="10.5" height="3" fill="#00CCFF"/>
<rect x="253.1" y="1061.82" width="10.5" height="3" fill="#00CCFF"/>
<rect x="298.72" y="1061.63" width="10.5" height="3" fill="#00CCFF"/>
<rect x="344.33" y="1061.6" width="10.5" height="3" fill="#00CCFF"/>
<rect x="389.95" y="1061.6" width="10.5" height="3" fill="#00CCFF"/>
<rect x="435.56" y="1061.6" width="10.5" height="3" fill="#00CCFF"/>
<rect x="481.18" y="1061.6" width="10.5" height="3" fill="#00CCFF"/>
<rect x="526.79" y="1061.6" width="10.5" height="3" fill="#00CCFF"/>
<rect x="572.41" y="1061.6" width="10.5" height="3" fill="#00CCFF"/>
<rect x="618.02" y="1061.6" width="10.5" height="3" fill="#00CCFF"/>
<rect x="663.64" y="1061.6" width="10.5" height="3" fill="#00CCFF"/>
<rect x="709.25" y="1061.6" width="10.5" height="3" fill="#00CCFF"/>
<rect x="754.87" y="1061.6" width="10.5" height="3" fill="#00CCFF"/>
<rect x="800.48" y="1061.6" width="10.5" height="3" fill="#00CCFF"/>
<rect x="846.1" y="1061.6" width="10.5" height="3" fill="#00CCFF"/>
<rect x="891.71" y="1061.6" width="10.5" height="3" fill="#00CCFF"/>
<rect x="937.33" y="1061.6" width="10.5" height="3" fill="#00CCFF"/>
<rect x="982.94" y="1061.6" width="10.5" height="3" fill="#00CCFF"/>
<path d="M121.51 1122.2 L167.12 1077.02 L212.74 1069.8 L258.35 1068.78 L303.97 1068.65 L349.58 1068.63 L395.2 1068.63 L440.81 1068.63 L486.43 1068.63 L532.04 1068.63 L577.66 1068.63 L623.27 1068.63 L668.89 1068.63 L714.5 1068.63 L760.12 1068.63 L805.73 1068.63 L851.35 1068.63 L896.96 1068.63 L942.58 1068.63 L988.19 1068.63" stroke="#CCFFFF" stroke-width="2" fill="none" stroke-linejoin="round"/>
<path d="M121.51 1117.2L126.51 1122.2L121.51 1127.2L116.51 1122.2Z" fill="#CCFFFF"/>
<path d="M167.12 1072.02L172.12 1077.02L167.12 1082.02L162.12 1077.02Z" fill="#CCFFFF"/>
<path d="M212.74 1064.8L217.74 1069.8L212.74 1074.8L207.74 1069.8Z" fill="#CCFFFF"/>
<path d="M258.35 1063.78L263.35 1068.78L258.35 1073.78L253.35 1068.78Z" fill="#CCFFFF"/>
<path d="M303.97 1063.65L308.97 1068.65L303.97 1073.65L298.97 1068.65Z" fill="#CCFFFF"/>
<path d="M349.58 1063.63L354.58 1068.63L349.58 1073.63L344.58 1068.63Z" fill="#CCFFFF"/>
<path d="M395.2 1063.63L400.2 1068.63L395.2 1073.63L390.2 1068.63Z" fill="#CCFFFF"/>
<path d="M440.81 1063.63L445.81 1068.63L440.81 1073.63L435.81 1068.63Z" fill="#CCFFFF"/>
<path d="M486.43 1063.63L491.43 1068.63L486.43 1073.63L481.43 1068.63Z" fill="#CCFFFF"/>
<path d="M532.04 1063.63L537.04 1068.63L532.04 1073.63L527.04 1068.63Z" fill="#CCFFFF"/>
<path d="M577.66 1063.63L582.66 1068.63L577.66 1073.63L572.66 1068.63Z" fill="#CCFFFF"/>
<path d="M623.27 1063.63L628.27 1068.63L623.27 1073.63L618.27 1068.63Z" fill="#CCFFFF"/>
<path d="M668.89 1063.63L673.89 1068.63L668.89 1073.63L663.89 1068.63Z" fill="#CCFFFF"/>
<path d="M714.5 1063.63L719.5 1068.63L714.5 1073.63L709.5 1068.63Z" fill="#CCFFFF"/>
<path d="M760.12 1063.63L765.12 1068.63L760.12 1073.63L755.12 1068.63Z" fill="#CCFFFF"/>
<path d="M805.73 1063.63L810.73 1068.63L805.73 1073.63L800.73 1068.63Z" fill="#CCFFFF"/>
<path d="M851.35 1063.63L856.35 1068.63L851.35 1073.63L846.35 1068.63Z" fill="#CCFFFF"/>
<path d="M896.96 1063.63L901.96 1068.63L896.96 1073.63L891.96 1068.63Z" fill="#CCFFFF"/>
<path d="M942.58 1063.63L947.58 1068.63L942.58 1073.63L937.58 1068.63Z" fill="#CCFFFF"/>
<path d="M988.19 1063.63L993.19 1068.63L988.19 1073.63L983.19 1068.63Z" fill="#CCFFFF"/>
<path d="M121.51 1122.2 L167.12 1079.66 L212.74 1073.42 L258.35 1072.61 L303.97 1072.51 L349.58 1072.5 L395.2 1072.5 L440.81 1072.5 L486.43 1072.5 L532.04 1072.5 L577.66 1072.5 L623.27 1072.5 L668.89 1072.5 L714.5 1072.5 L760.12 1072.5 L805.73 1072.5 L851.35 1072.5 L896.96 1072.5 L942.58 1072.5 L988.19 1072.5" stroke="#CCFFCC" stroke-width="2" fill="none" stroke-linejoin="round"/>
<rect x="117.51" y="1117.9" width="8" height="8" fill="#CCFFCC"/>
<rect x="163.12" y="1075.36" width="8" height="8" fill="#CCFFCC"/>
<rect x="208.74" y="1069.12" width="8" height="8" fill="#CCFFCC"/>
<rect x="254.35" y="1068.31" width="8" height="8" fill="#CCFFCC"/>
<rect x="299.97" y="1068.21" width="8" height="8" fill="#CCFFCC"/>
<rect x="345.58" y="1068.2" width="8" height="8" fill="#CCFFCC"/>
<rect x="391.2" y="1068.2" width="8" height="8" fill="#CCFFCC"/>
<rect x="436.81" y="1068.2" width="8" height="8" fill="#CCFFCC"/>
<rect x="482.43" y="1068.2" width="8" height="8" fill="#CCFFCC"/>
<rect x="528.04" y="1068.2" width="8" height="8" fill="#CCFFCC"/>
<rect x="573.66" y="1068.2" width="8" height="8" fill="#CCFFCC"/>
<rect x="619.27" y="1068.2" width="8" height="8" fill="#CCFFCC"/>
<rect x="664.89" y="1068.2" width="8" height="8" fill="#CCFFCC"/>
<rect x="710.5" y="1068.2" width="8" height="8" fill="#CCFFCC"/>
<rect x="756.12" y="1068.2" width="8" height="8" fill="#CCFFCC"/>
<rect x="801.73" y="1068.2" width="8" height="8" fill="#CCFFCC"/>
<rect x="847.35" y="1068.2" width="8" height="8" fill="#CCFFCC"/>
<rect x="892.96" y="1068.2" width="8" height="8" fill="#CCFFCC"/>
<rect x="938.58" y="1068.2" width="8" height="8" fill="#CCFFCC"/>
<rect x="984.19" y="1068.2" width="8" height="8" fill="#CCFFCC"/>
<path d="M121.51 1122.2 L167.12 1081.98 L212.74 1076.52 L258.35 1075.87 L303.97 1075.8 L349.58 1075.79 L395.2 1075.79 L440.81 1075.79 L486.43 1075.79 L532.04 1075.79 L577.66 1075.79 L623.27 1075.79 L668.89 1075.79 L714.5 1075.79 L760.12 1075.79 L805.73 1075.79 L851.35 1075.79 L896.96 1075.79 L942.58 1075.79 L988.19 1075.79" stroke="#FFFF99" stroke-width="2" fill="none" stroke-linejoin="round"/>
<path d="M121.51 1117.2L126.51 1126.7L116.51 1126.7Z" fill="#FFFF99"/>
<path d="M167.12 1076.98L172.12 1086.48L162.12 1086.48Z" fill="#FFFF99"/>
<path d="M212.74 1071.52L217.74 1081.02L207.74 1081.02Z" fill="#FFFF99"/>
<path d="M258.35 1070.87L263.35 1080.37L253.35 1080.37Z" fill="#FFFF99"/>
<path d="M303.97 1070.8L308.97 1080.3L298.97 1080.3Z" fill="#FFFF99"/>
<path d="M349.58 1070.79L354.58 1080.29L344.58 1080.29Z" fill="#FFFF99"/>
<path d="M395.2 1070.79L400.2 1080.29L390.2 1080.29Z" fill="#FFFF99"/>
<path d="M440.81 1070.79L445.81 1080.29L435.81 1080.29Z" fill="#FFFF99"/>
<path d="M486.43 1070.79L491.43 1080.29L481.43 1080.29Z" fill="#FFFF99"/>
<path d="M532.04 1070.79L537.04 1080.29L527.04 1080.29Z" fill="#FFFF99"/>
<path d="M577.66 1070.79L582.66 1080.29L572.66 1080.29Z" fill="#FFFF99"/>
<path d="M623.27 1070.79L628.27 1080.29L618.27 1080.29Z" fill="#FFFF99"/>
<path d="M668.89 1070.79L673.89 1080.29L663.89 1080.29Z" fill="#FFFF99"/>
<path d="M714.5 1070.79L719.5 1080.29L709.5 1080.29Z" fill="#FFFF99"/>
<path d="M760.12 1070.79L765.12 1080.29L755.12 1080.29Z" fill="#FFFF99"/>
<path d="M805.73 1070.79L810.73 1080.29L800.73 1080.29Z" fill="#FFFF99"/>
<path d="M851.35 1070.79L856.35 1080.29L846.35 1080.29Z" fill="#FFFF99"/>
<path d="M896.96 1070.79L901.96 1080.29L891.96 1080.29Z" fill="#FFFF99"/>
<path d="M942.58 1070.79L947.58 1080.29L937.58 1080.29Z" fill="#FFFF99"/>
<path d="M988.19 1070.79L993.19 1080.29L983.19 1080.29Z" fill="#FFFF99"/>
<path d="M121.51 1122.2 L167.12 1084.04 L212.74 1079.22 L258.35 1078.69 L303.97 1078.63 L349.58 1078.63 L395.2 1078.63 L440.81 1078.63 L486.43 1078.63 L532.04 1078.63 L577.66 1078.63 L623.27 1078.63 L668.89 1078.63 L714.5 1078.63 L760.12 1078.63 L805.73 1078.63 L851.35 1078.63 L896.96 1078.63 L942.58 1078.63 L988.19 1078.63" stroke="#99CCFF" stroke-width="2" fill="none" stroke-linejoin="round"/>
<path d="M117.01 1117.7L126.01 1126.7M126.01 1117.7L117.01 1126.7" stroke="#99CCFF" stroke-width="2" fill="none"/>
<path d="M162.62 1079.54L171.62 1088.54M171.62 1079.54L162.62 1088.54" stroke="#99CCFF" stroke-width="2" fill="none"/>
<path d="M208.24 1074.72L217.24 1083.72M217.24 1074.72L208.24 1083.72" stroke="#99CCFF" stroke-width="2" fill="none"/>
<path d="M253.85 1074.19L262.85 1083.19M262.85 1074.19L253.85 1083.19" stroke="#99CCFF" stroke-width="2" fill="none"/>
<path d="M299.47 1074.13L308.47 1083.13M308.47 1074.13L299.47 1083.13" stroke="#99CCFF" stroke-width="2" fill="none"/>
<path d="M345.08 1074.13L354.08 1083.13M354.08 1074.13L345.08 1083.13" stroke="#99CCFF" stroke-width="2" fill="none"/>
<path d="M390.7 1074.13L399.7 1083.13M399.7 1074.13L390.7 1083.13" stroke="#99CCFF" stroke-width="2" fill="none"/>
<path d="M436.31 1074.13L445.31 1083.13M445.31 1074.13L436.31 1083.13" stroke="#99CCFF" stroke-width="2" fill="none"/>
<path d="M481.93 1074.13L490.93 1083.13M490.93 1074.13L481.93 1083.13" stroke="#99CCFF" stroke-width="2" fill="none"/>
<path d="M527.54 1074.13L536.54 1083.13M536.54 1074.13L527.54 1083.13" stroke="#99CCFF" stroke-width="2" fill="none"/>
<path d="M573.16 1074.13L582.16 1083.13M582.16 1074.13L573.16 1083.13" stroke="#99CCFF" stroke-width="2" fill="none"/>
<path d="M618.77 1074.13L627.77 1083.13M627.77 1074.13L618.77 1083.13" stroke="#99CCFF" stroke-width="2" fill="none"/>
<path d="M664.39 1074.13L673.39 1083.13M673.39 1074.13L664.39 1083.13" stroke="#99CCFF" stroke-width="2" fill="none"/>
<path d="M710 1074.13L719 1083.13M719 1074.13L710 1083.13" stroke="#99CCFF" stroke-width="2" fill="none"/>
<path d="M755.62 1074.13L764.62 1083.13M764.62 1074.13L755.62 1083.13" stroke="#99CCFF" stroke-width="2" fill="none"/>
<path d="M801.23 1074.13L810.23 1083.13M810.23 1074.13L801.23 1083.13" stroke="#99CCFF" stroke-width="2" fill="none"/>
<path d="M846.85 1074.13L855.85 1083.13M855.85 1074.13L846.85 1083.13" stroke="#99CCFF" stroke-width="2" fill="none"/>
<path d="M892.46 1074.13L901.46 1083.13M901.46 1074.13L892.46 1083.13" stroke="#99CCFF" stroke-width="2" fill="none"/>
<path d="M938.08 1074.13L947.08 1083.13M947.08 1074.13L938.08 1083.13" stroke="#99CCFF" stroke-width="2" fill="none"/>
<path d="M983.69 1074.13L992.69 1083.13M992.69 1074.13L983.69 1083.13" stroke="#99CCFF" stroke-width="2" fill="none"/>
<path d="M121.51 1122.2 L167.12 1085.87 L212.74 1081.58 L258.35 1081.15 L303.97 1081.11 L349.58 1081.1 L395.2 1081.1 L440.81 1081.1 L486.43 1081.1 L532.04 1081.1 L577.66 1081.1 L623.27 1081.1 L668.89 1081.1 L714.5 1081.1 L760.12 1081.1 L805.73 1081.1 L851.35 1081.1 L896.96 1081.1 L942.58 1081.1 L988.19 1081.1" stroke="#FF99CC" stroke-width="2" fill="none" stroke-linejoin="round"/>
<path d="M117.01 1117.7L126.01 1126.7M126.01 1117.7L117.01 1126.7M121.51 1117.7L121.51 1126.7" stroke="#FF99CC" stroke-width="2" fill="none"/>
<path d="M162.62 1081.37L171.62 1090.37M171.62 1081.37L162.62 1090.37M167.12 1081.37L167.12 1090.37" stroke="#FF99CC" stroke-width="2" fill="none"/>
<path d="M208.24 1077.08L217.24 1086.08M217.24 1077.08L208.24 1086.08M212.74 1077.08L212.74 1086.08" stroke="#FF99CC" stroke-width="2" fill="none"/>
<path d="M253.85 1076.65L262.85 1085.65M262.85 1076.65L253.85 1085.65M258.35 1076.65L258.35 1085.65" stroke="#FF99CC" stroke-width="2" fill="none"/>
<path d="M299.47 1076.61L308.47 1085.61M308.47 1076.61L299.47 1085.61M303.97 1076.61L303.97 1085.61" stroke="#FF99CC" stroke-width="2" fill="none"/>
<path d="M345.08 1076.6L354.08 1085.6M354.08 1076.6L345.08 1085.6M349.58 1076.6L349.58 1085.6" stroke="#FF99CC" stroke-width="2" fill="none"/>
<path d="M390.7 1076.6L399.7 1085.6M399.7 1076.6L390.7 1085.6M395.2 1076.6L395.2 1085.6" stroke="#FF99CC" stroke-width="2" fill="none"/>
<path d="M436.31 1076.6L445.31 1085.6M445.31 1076.6L436.31 1085.6M440.81 1076.6L440.81 1085.6" stroke="#FF99CC" stroke-width="2" fill="none"/>
<path d="M481.93 1076.6L490.93 1085.6M490.93 1076.6L481.93 1085.6M486.43 1076.6L486.43 1085.6" stroke="#FF99CC" stroke-width="2" fill="none"/>
<path d="M527.54 1076.6L536.54 1085.6M536.54 1076.6L527.54 1085.6M532.04 1076.6L532.04 1085.6" stroke="#FF99CC" stroke-width="2" fill="none"/>
<path d="M573.16 1076.6L582.16 1085.6M582.16 1076.6L573.16 1085.6M577.66 1076.6L577.66 1085.6" stroke="#FF99CC" stroke-width="2" fill="none"/>
<path d="M618.77 1076.6L627.77 1085.6M627.77 1076.6L618.77 1085.6M623.27 1076.6L623.27 1085.6" stroke="#FF99CC" stroke-width="2" fill="none"/>
<path d="M664.39 1076.6L673.39 1085.6M673.39 1076.6L664.39 1085.6M668.89 1076.6L668.89 1085.6" stroke="#FF99CC" stroke-width="2" fill="none"/>
<path d="M710 1076.6L719 1085.6M719 1076.6L710 1085.6M714.5 1076.6L714.5 1085.6" stroke="#FF99CC" stroke-width="2" fill="none"/>
<path d="M755.62 1076.6L764.62 1085.6M764.62 1076.6L755.62 1085.6M760.12 1076.6L760.12 1085.6" stroke="#FF99CC" stroke-width="2" fill="none"/>
<path d="M801.23 1076.6L810.23 1085.6M810.23 1076.6L801.23 1085.6M805.73 1076.6L805.73 1085.6" stroke="#FF99CC" stroke-width="2" fill="none"/>
<path d="M846.85 1076.6L855.85 1085.6M855.85 1076.6L846.85 1085.6M851.35 1076.6L851.35 1085.6" stroke="#FF99CC" stroke-width="2" fill="none"/>
<path d="M892.46 1076.6L901.46 1085.6M901.46 1076.6L892.46 1085.6M896.96 1076.6L896.96 1085.6" stroke="#FF99CC" stroke-width="2" fill="none"/>
<path d="M938.08 1076.6L947.08 1085.6M947.08 1076.6L938.08 1085.6M942.58 1076.6L942.58 1085.6" stroke="#FF99CC" stroke-width="2" fill="none"/>
<path d="M983.69 1076.6L992.69 1085.6M992.69 1076.6L983.69 1085.6M988.19 1076.6L988.19 1085.6" stroke="#FF99CC" stroke-width="2" fill="none"/>
<path d="M121.51 1122.2 L167.12 1087.53 L212.74 1083.68 L258.35 1083.31 L303.97 1083.28 L349.58 1083.28 L395.2 1083.28 L440.81 1083.28 L486.43 1083.28 L532.04 1083.28 L577.66 1083.28 L623.27 1083.28 L668.89 1083.28 L714.5 1083.28 L760.12 1083.28 L805.73 1083.28 L851.35 1083.28 L896.96 1083.28 L942.58 1083.28 L988.19 1083.28" stroke="#CC99FF" stroke-width="2" fill="none" stroke-linejoin="round"/>
<circle cx="121.51" cy="1122.2" r="4.25" fill="#CC99FF"/>
<circle cx="167.12" cy="1087.53" r="4.25" fill="#CC99FF"/>
<circle cx="212.74" cy="1083.68" r="4.25" fill="#CC99FF"/>
<circle cx="258.35" cy="1083.31" r="4.25" fill="#CC99FF"/>
<circle cx="303.97" cy="1083.28" r="4.25" fill="#CC99FF"/>
<circle cx="349.58" cy="1083.28" r="4.25" fill="#CC99FF"/>
<circle cx="395.2" cy="1083.28" r="4.25" fill="#CC99FF"/>
<circle cx="440.81" cy="1083.28" r="4.25" fill="#CC99FF"/>
<circle cx="486.43" cy="1083.28" r="4.25" fill="#CC99FF"/>
<circle cx="532.04" cy="1083.28" r="4.25" fill="#CC99FF"/>
<circle cx="577.66" cy="1083.28" r="4.25" fill="#CC99FF"/>
<circle cx="623.27" cy="1083.28" r="4.25" fill="#CC99FF"/>
<circle cx="668.89" cy="1083.28" r="4.25" fill="#CC99FF"/>
<circle cx="714.5" cy="1083.28" r="4.25" fill="#CC99FF"/>
<circle cx="760.12" cy="1083.28" r="4.25" fill="#CC99FF"/>
<circle cx="805.73" cy="1083.28" r="4.25" fill="#CC99FF"/>
<circle cx="851.35" cy="1083.28" r="4.25" fill="#CC99FF"/>
<circle cx="896.96" cy="1083.28" r="4.25" fill="#CC99FF"/>
<circle cx="942.58" cy="1083.28" r="4.25" fill="#CC99FF"/>
<circle cx="988.19" cy="1083.28" r="4.25" fill="#CC99FF"/>
<path d="M121.51 1122.2 L167.12 1089.02 L212.74 1085.55 L258.35 1085.24 L303.97 1085.22 L349.58 1085.22 L395.2 1085.22 L440.81 1085.22 L486.43 1085.22 L532.04 1085.22 L577.66 1085.22 L623.27 1085.22 L668.89 1085.22 L714.5 1085.22 L760.12 1085.22 L805.73 1085.22 L851.35 1085.22 L896.96 1085.22 L942.58 1085.22 L988.19 1085.22" stroke="#FFCC99" stroke-width="2" fill="none" stroke-linejoin="round"/>
<path d="M116.51 1122.2L126.51 1122.2M121.51 1117.2L121.51 1127.2" stroke="#FFCC99" stroke-width="2" fill="none"/>
<path d="M162.12 1089.02L172.12 1089.02M167.12 1084.02L167.12 1094.02" stroke="#FFCC99" stroke-width="2" fill="none"/>
<path d="M207.74 1085.55L217.74 1085.55M212.74 1080.55L212.74 1090.55" stroke="#FFCC99" stroke-width="2" fill="none"/>
<path d="M253.35 1085.24L263.35 1085.24M258.35 1080.24L258.35 1090.24" stroke="#FFCC99" stroke-width="2" fill="none"/>
<path d="M298.97 1085.22L308.97 1085.22M303.97 1080.22L303.97 1090.22" stroke="#FFCC99" stroke-width="2" fill="none"/>
<path d="M344.58 1085.22L354.58 1085.22M349.58 1080.22L349.58 1090.22" stroke="#FFCC99" stroke-width="2" fill="none"/>
<path d="M390.2 1085.22L400.2 1085.22M395.2 1080.22L395.2 1090.22" stroke="#FFCC99" stroke-width="2" fill="none"/>
<path d="M435.81 1085.22L445.81 1085.22M440.81 1080.22L440.81 1090.22" stroke="#FFCC99" stroke-width="2" fill="none"/>
<path d="M481.43 1085.22L491.43 1085.22M486.43 1080.22L486.43 1090.22" stroke="#FFCC99" stroke-width="2" fill="none"/>
<path d="M527.04 1085.22L537.04 1085.22M532.04 1080.22L532.04 1090.22" stroke="#FFCC99" stroke-width="2" fill="none"/>
<path d="M572.66 1085.22L582.66 1085.22M577.66 1080.22L577.66 1090.22" stroke="#FFCC99" stroke-width="2" fill="none"/>
<path d="M618.27 1085.22L628.27 1085.22M623.27 1080.22L623.27 1090.22" stroke="#FFCC99" stroke-width="2" fill="none"/>
<path d="M663.89 1085.22L673.89 1085.22M668.89 1080.22L668.89 1090.22" stroke="#FFCC99" stroke-width="2" fill="none"/>
<path d="M709.5 1085.22L719.5 1085.22M714.5 1080.22L714.5 1090.22" stroke="#FFCC99" stroke-width="2" fill="none"/>
<path d="M755.12 1085.22L765.12 1085.22M760.12 1080.22L760.12 1090.22" stroke="#FFCC99" stroke-width="2" fill="none"/>
<path d="M800.73 1085.22L810.73 1085.22M805.73 1080.22L805.73 1090.22" stroke="#FFCC99" stroke-width="2" fill="none"/>
<path d="M846.35 1085.22L856.35 1085.22M851.35 1080.22L851.35 1090.22" stroke="#FFCC99" stroke-width="2" fill="none"/>
<path d="M891.96 1085.22L901.96 1085.22M896.96 1080.22L896.96 1090.22" stroke="#FFCC99" stroke-width="2" fill="none"/>
<path d="M937.58 1085.22L947.58 1085.22M942.58 1080.22L942.58 1090.22" stroke="#FFCC99" stroke-width="2" fill="none"/>
<path d="M983.19 1085.22L993.19 1085.22M988.19 1080.22L988.19 1090.22" stroke="#FFCC99" stroke-width="2" fill="none"/>
<path d="M121.51 1122.2 L167.12 1090.38 L212.74 1087.23 L258.35 1086.97 L303.97 1086.95 L349.58 1086.95 L395.2 1086.95 L440.81 1086.95 L486.43 1086.95 L532.04 1086.95 L577.66 1086.95 L623.27 1086.95 L668.89 1086.95 L714.5 1086.95 L760.12 1086.95 L805.73 1086.95 L851.35 1086.95 L896.96 1086.95 L942.58 1086.95 L988.19 1086.95" stroke="#3366FF" stroke-width="2" fill="none" stroke-linejoin="round"/>
<rect x="120.91" y="1119.9" width="5.8" height="3.3" fill="#3366FF"/>
<rect x="166.52" y="1088.08" width="5.8" height="3.3" fill="#3366FF"/>
<rect x="212.14" y="1084.93" width="5.8" height="3.3" fill="#3366FF"/>
<rect x="257.75" y="1084.67" width="5.8" height="3.3" fill="#3366FF"/>
<rect x="303.37" y="1084.65" width="5.8" height="3.3" fill="#3366FF"/>
<rect x="348.98" y="1084.65" width="5.8" height="3.3" fill="#3366FF"/>
<rect x="394.6" y="1084.65" width="5.8" height="3.3" fill="#3366FF"/>
<rect x="440.21" y="1084.65" width="5.8" height="3.3" fill="#3366FF"/>
<rect x="485.83" y="1084.65" width="5.8" height="3.3" fill="#3366FF"/>
<rect x="531.44" y="1084.65" width="5.8" height="3.3" fill="#3366FF"/>
<rect x="577.06" y="1084.65" width="5.8" height="3.3" fill="#3366FF"/>
<rect x="622.67" y="1084.65" width="5.8" height="3.3" fill="#3366FF"/>
<rect x="668.29" y="1084.65" width="5.8" height="3.3" fill="#3366FF"/>
<rect x="713.9" y="1084.65" width="5.8" height="3.3" fill="#3366FF"/>
<rect x="759.52" y="1084.65" width="5.8" height="3.3" fill="#3366FF"/>
<rect x="805.13" y="1084.65" width="5.8" height="3.3" fill="#3366FF"/>
<rect x="850.75" y="1084.65" width="5.8" height="3.3" fill="#3366FF"/>
<rect x="896.36" y="1084.65" width="5.8" height="3.3" fill="#3366FF"/>
<rect x="941.98" y="1084.65" width="5.8" height="3.3" fill="#3366FF"/>
<rect x="987.59" y="1084.65" width="5.8" height="3.3" fill="#3366FF"/>
<path d="M121.51 1122.2 L167.12 1091.62 L212.74 1088.75 L258.35 1088.52 L303.97 1088.51 L349.58 1088.51 L395.2 1088.51 L440.81 1088.51 L486.43 1088.51 L532.04 1088.51 L577.66 1088.51 L623.27 1088.51 L668.89 1088.51 L714.5 1088.51 L760.12 1088.51 L805.73 1088.51 L851.35 1088.51 L896.96 1088.51 L942.58 1088.51 L988.19 1088.51" stroke="#33CCCC" stroke-width="2" fill="none" stroke-linejoin="round"/>
<rect x="116.26" y="1119.8" width="10.5" height="3" fill="#33CCCC"/>
<rect x="161.87" y="1089.22" width="10.5" height="3" fill="#33CCCC"/>
<rect x="207.49" y="1086.35" width="10.5" height="3" fill="#33CCCC"/>
<rect x="253.1" y="1086.12" width="10.5" height="3" fill="#33CCCC"/>
<rect x="298.72" y="1086.11" width="10.5" height="3" fill="#33CCCC"/>
<rect x="344.33" y="1086.11" width="10.5" height="3" fill="#33CCCC"/>
<rect x="389.95" y="1086.11" width="10.5" height="3" fill="#33CCCC"/>
<rect x="435.56" y="1086.11" width="10.5" height="3" fill="#33CCCC"/>
<rect x="481.18" y="1086.11" width="10.5" height="3" fill="#33CCCC"/>
<rect x="526.79" y="1086.11" width="10.5" height="3" fill="#33CCCC"/>
<rect x="572.41" y="1086.11" width="10.5" height="3" fill="#33CCCC"/>
<rect x="618.02" y="1086.11" width="10.5" height="3" fill="#33CCCC"/>
<rect x="663.64" y="1086.11" width="10.5" height="3" fill="#33CCCC"/>
<rect x="709.25" y="1086.11" width="10.5" height="3" fill="#33CCCC"/>
<rect x="754.87" y="1086.11" width="10.5" height="3" fill="#33CCCC"/>
<rect x="800.48" y="1086.11" width="10.5" height="3" fill="#33CCCC"/>
<rect x="846.1" y="1086.11" width="10.5" height="3" fill="#33CCCC"/>
<rect x="891.71" y="1086.11" width="10.5" height="3" fill="#33CCCC"/>
<rect x="937.33" y="1086.11" width="10.5" height="3" fill="#33CCCC"/>
<rect x="982.94" y="1086.11" width="10.5" height="3" fill="#33CCCC"/>
<path d="M121.51 1122.2 L167.12 1092.76 L212.74 1090.13 L258.35 1089.94 L303.97 1089.92 L349.58 1089.92 L395.2 1089.92 L440.81 1089.92 L486.43 1089.92 L532.04 1089.92 L577.66 1089.92 L623.27 1089.92 L668.89 1089.92 L714.5 1089.92 L760.12 1089.92 L805.73 1089.92 L851.35 1089.92 L896.96 1089.92 L942.58 1089.92 L988.19 1089.92" stroke="#99CC00" stroke-width="2" fill="none" stroke-linejoin="round"/>
<path d="M121.51 1117.2L126.51 1122.2L121.51 1127.2L116.51 1122.2Z" fill="#99CC00"/>
<path d="M167.12 1087.76L172.12 1092.76L167.12 1097.76L162.12 1092.76Z" fill="#99CC00"/>
<path d="M212.74 1085.13L217.74 1090.13L212.74 1095.13L207.74 1090.13Z" fill="#99CC00"/>
<path d="M258.35 1084.94L263.35 1089.94L258.35 1094.94L253.35 1089.94Z" fill="#99CC00"/>
<path d="M303.97 1084.92L308.97 1089.92L303.97 1094.92L298.97 1089.92Z" fill="#99CC00"/>
<path d="M349.58 1084.92L354.58 1089.92L349.58 1094.92L344.58 1089.92Z" fill="#99CC00"/>
<path d="M395.2 1084.92L400.2 1089.92L395.2 1094.92L390.2 1089.92Z" fill="#99CC00"/>
<path d="M440.81 1084.92L445.81 1089.92L440.81 1094.92L435.81 1089.92Z" fill="#99CC00"/>
<path d="M486.43 1084.92L491.43 1089.92L486.43 1094.92L481.43 1089.92Z" fill="#99CC00"/>
<path d="M532.04 1084.92L537.04 1089.92L532.04 1094.92L527.04 1089.92Z" fill="#99CC00"/>
<path d="M577.66 1084.92L582.66 1089.92L577.66 1094.92L572.66 1089.92Z" fill="#99CC00"/>
<path d="M623.27 1084.92L628.27 1089.92L623.27 1094.92L618.27 1089.92Z" fill="#99CC00"/>
<path d="M668.89 1084.92L673.89 1089.92L668.89 1094.92L663.89 1089.92Z" fill="#99CC00"/>
<path d="M714.5 1084.92L719.5 1089.92L714.5 1094.92L709.5 1089.92Z" fill="#99CC00"/>
<path d="M760.12 1084.92L765.12 1089.92L760.12 1094.92L755.12 1089.92Z" fill="#99CC00"/>
<path d="M805.73 1084.92L810.73 1089.92L805.73 1094.92L800.73 1089.92Z" fill="#99CC00"/>
<path d="M851.35 1084.92L856.35 1089.92L851.35 1094.92L846.35 1089.92Z" fill="#99CC00"/>
<path d="M896.96 1084.92L901.96 1089.92L896.96 1094.92L891.96 1089.92Z" fill="#99CC00"/>
<path d="M942.58 1084.92L947.58 1089.92L942.58 1094.92L937.58 1089.92Z" fill="#99CC00"/>
<path d="M988.19 1084.92L993.19 1089.92L988.19 1094.92L983.19 1089.92Z" fill="#99CC00"/>
<path d="M121.51 1122.2 L167.12 1093.81 L212.74 1091.39 L258.35 1091.22 L303.97 1091.21 L349.58 1091.21 L395.2 1091.21 L440.81 1091.21 L486.43 1091.21 L532.04 1091.21 L577.66 1091.21 L623.27 1091.21 L668.89 1091.21 L714.5 1091.21 L760.12 1091.21 L805.73 1091.21 L851.35 1091.21 L896.96 1091.21 L942.58 1091.21 L988.19 1091.21" stroke="#FFCC00" stroke-width="2" fill="none" stroke-linejoin="round"/>
<rect x="117.51" y="1117.9" width="8" height="8" fill="#FFCC00"/>
<rect x="163.12" y="1089.51" width="8" height="8" fill="#FFCC00"/>
<rect x="208.74" y="1087.09" width="8" height="8" fill="#FFCC00"/>
<rect x="254.35" y="1086.92" width="8" height="8" fill="#FFCC00"/>
<rect x="299.97" y="1086.91" width="8" height="8" fill="#FFCC00"/>
<rect x="345.58" y="1086.91" width="8" height="8" fill="#FFCC00"/>
<rect x="391.2" y="1086.91" width="8" height="8" fill="#FFCC00"/>
<rect x="436.81" y="1086.91" width="8" height="8" fill="#FFCC00"/>
<rect x="482.43" y="1086.91" width="8" height="8" fill="#FFCC00"/>
<rect x="528.04" y="1086.91" width="8" height="8" fill="#FFCC00"/>
<rect x="573.66" y="1086.91" width="8" height="8" fill="#FFCC00"/>
<rect x="619.27" y="1086.91" width="8" height="8" fill="#FFCC00"/>
<rect x="664.89" y="1086.91" width="8" height="8" fill="#FFCC00"/>
<rect x="710.5" y="1086.91" width="8" height="8" fill="#FFCC00"/>
<rect x="756.12" y="1086.91" width="8" height="8" fill="#FFCC00"/>
<rect x="801.73" y="1086.91" width="8" height="8" fill="#FFCC00"/>
<rect x="847.35" y="1086.91" width="8" height="8" fill="#FFCC00"/>
<rect x="892.96" y="1086.91" width="8" height="8" fill="#FFCC00"/>
<rect x="938.58" y="1086.91" width="8" height="8" fill="#FFCC00"/>
<rect x="984.19" y="1086.91" width="8" height="8" fill="#FFCC00"/>
<rect x="23.5" y="588.4" width="978" height="65.9" fill="none" stroke="#999" stroke-width="1.2"/>
<path d="M29 605.2H78" stroke="#000080" stroke-width="0.7"/>
<path d="M53.5 600.2L58.5 605.2L53.5 610.2L48.5 605.2Z" fill="#000080"/>
<text transform="translate(83.5 607.6) scale(1 1)" font-size="17">b=1</text>
<path d="M127 605.2H176" stroke="#FF00FF" stroke-width="0.7"/>
<rect x="147.5" y="600.7" width="8" height="8" fill="#FF00FF"/>
<text transform="translate(181.5 607.6) scale(1 1)" font-size="17">b=2</text>
<path d="M225 605.2H274" stroke="#FFFF00" stroke-width="0.7"/>
<path d="M249.5 600.2L254.5 609.7L244.5 609.7Z" fill="#FFFF00"/>
<text transform="translate(279.5 607.6) scale(1 1)" font-size="17">b=3</text>
<path d="M323 605.2H372" stroke="#00FFFF" stroke-width="0.7"/>
<path d="M343 600.7L352 609.7M352 600.7L343 609.7" stroke="#00FFFF" stroke-width="2" fill="none"/>
<text transform="translate(377.5 607.6) scale(1 1)" font-size="17">b=4</text>
<path d="M421 605.2H470" stroke="#800080" stroke-width="0.7"/>
<path d="M441 600.7L450 609.7M450 600.7L441 609.7M445.5 600.7L445.5 609.7" stroke="#800080" stroke-width="2" fill="none"/>
<text transform="translate(475.5 607.6) scale(1 1)" font-size="17">b=5</text>
<path d="M519 605.2H568" stroke="#800000" stroke-width="0.7"/>
<circle cx="543.5" cy="605.2" r="4.25" fill="#800000"/>
<text transform="translate(573.5 607.6) scale(1 1)" font-size="17">b=6</text>
<path d="M617 605.2H666" stroke="#008080" stroke-width="0.7"/>
<path d="M636.5 605.2L646.5 605.2M641.5 600.2L641.5 610.2" stroke="#008080" stroke-width="2" fill="none"/>
<text transform="translate(671.5 607.6) scale(1 1)" font-size="17">b=7</text>
<path d="M715 605.2H764" stroke="#0000FF" stroke-width="0.7"/>
<rect x="738.9" y="602.9" width="5.8" height="3.3" fill="#0000FF"/>
<text transform="translate(769.5 607.6) scale(1 1)" font-size="17">b=8</text>
<path d="M813 605.2H862" stroke="#00CCFF" stroke-width="3"/>
<rect x="831" y="602.8" width="13" height="3" fill="#00CCFF"/>
<text transform="translate(867.5 607.6) scale(1 1)" font-size="17">b=9</text>
<path d="M911 605.2H960" stroke="#CCFFFF" stroke-width="0.7"/>
<path d="M935.5 600.2L940.5 605.2L935.5 610.2L930.5 605.2Z" fill="#CCFFFF"/>
<text transform="translate(965.5 607.6) scale(1 1)" font-size="17">b=10</text>
<path d="M29 637.3H78" stroke="#CCFFCC" stroke-width="0.7"/>
<rect x="49.5" y="632.8" width="8" height="8" fill="#CCFFCC"/>
<text transform="translate(83.5 639.8) scale(1 1)" font-size="17">b=11</text>
<path d="M127 637.3H176" stroke="#FFFF99" stroke-width="2.5"/>
<path d="M151.5 630.3L158.5 643.6L144.5 643.6Z" fill="#FFFF99"/>
<text transform="translate(181.5 639.8) scale(1 1)" font-size="17">b=12</text>
<path d="M225 637.3H274" stroke="#99CCFF" stroke-width="0.7"/>
<path d="M245 632.8L254 641.8M254 632.8L245 641.8" stroke="#99CCFF" stroke-width="2" fill="none"/>
<text transform="translate(279.5 639.8) scale(1 1)" font-size="17">b=13</text>
<path d="M323 637.3H372" stroke="#FF99CC" stroke-width="0.7"/>
<path d="M343 632.8L352 641.8M352 632.8L343 641.8M347.5 632.8L347.5 641.8" stroke="#FF99CC" stroke-width="2" fill="none"/>
<text transform="translate(377.5 639.8) scale(1 1)" font-size="17">b=14</text>
<path d="M421 637.3H470" stroke="#CC99FF" stroke-width="0.7"/>
<circle cx="445.5" cy="637.3" r="4.25" fill="#CC99FF"/>
<text transform="translate(475.5 639.8) scale(1 1)" font-size="17">b=15</text>
<path d="M519 637.3H568" stroke="#FFCC99" stroke-width="0.7"/>
<path d="M538.5 637.3L548.5 637.3M543.5 632.3L543.5 642.3" stroke="#FFCC99" stroke-width="2" fill="none"/>
<text transform="translate(573.5 639.8) scale(1 1)" font-size="17">b=16</text>
<path d="M617 637.3H666" stroke="#3366FF" stroke-width="0.7"/>
<rect x="640.9" y="635" width="5.8" height="3.3" fill="#3366FF"/>
<text transform="translate(671.5 639.8) scale(1 1)" font-size="17">b=17</text>
<path d="M715 637.3H764" stroke="#33CCCC" stroke-width="0.7"/>
<rect x="735" y="634.9" width="9" height="3" fill="#33CCCC"/>
<text transform="translate(769.5 639.8) scale(1 1)" font-size="17">b=18</text>
<path d="M813 637.3H862" stroke="#99CC00" stroke-width="3"/>
<path d="M837.5 631.8L843 637.3L837.5 642.8L832 637.3Z" fill="#99CC00"/>
<text transform="translate(867.5 639.8) scale(1 1)" font-size="17">b=19</text>
<path d="M911 637.3H960" stroke="#FFCC00" stroke-width="0.7"/>
<rect x="931.5" y="632.8" width="8" height="8" fill="#FFCC00"/>
<text transform="translate(965.5 639.8) scale(1 1)" font-size="17">b=20</text>
<rect x="4.7" y="1335.1" width="1009.4" height="68.1" fill="none" stroke="#999" stroke-width="1.2"/>
<path d="M16.6 1353.75H56.4" stroke="#000080" stroke-width="2"/>
<path d="M36.5 1348.75L41.5 1353.75L36.5 1358.75L31.5 1353.75Z" fill="#000080"/>
<text transform="translate(61 1359.3) scale(1 1)" font-size="18">b=1</text>
<path d="M117.65 1353.75H157.45" stroke="#FF00FF" stroke-width="2"/>
<rect x="133.55" y="1349.25" width="8" height="8" fill="#FF00FF"/>
<text transform="translate(162.05 1359.3) scale(1 1)" font-size="18">b=2</text>
<path d="M218.7 1353.75H258.5" stroke="#FFFF00" stroke-width="2"/>
<path d="M238.6 1348.75L243.6 1358.25L233.6 1358.25Z" fill="#FFFF00"/>
<text transform="translate(263.1 1359.3) scale(1 1)" font-size="18">b=3</text>
<path d="M319.75 1353.75H359.55" stroke="#00FFFF" stroke-width="2"/>
<path d="M335.15 1349.25L344.15 1358.25M344.15 1349.25L335.15 1358.25" stroke="#00FFFF" stroke-width="2" fill="none"/>
<text transform="translate(364.15 1359.3) scale(1 1)" font-size="18">b=4</text>
<path d="M420.8 1353.75H460.6" stroke="#800080" stroke-width="2"/>
<path d="M436.2 1349.25L445.2 1358.25M445.2 1349.25L436.2 1358.25M440.7 1349.25L440.7 1358.25" stroke="#800080" stroke-width="2" fill="none"/>
<text transform="translate(465.2 1359.3) scale(1 1)" font-size="18">b=5</text>
<path d="M521.85 1353.75H561.65" stroke="#800000" stroke-width="2"/>
<circle cx="541.75" cy="1353.75" r="4.25" fill="#800000"/>
<text transform="translate(566.25 1359.3) scale(1 1)" font-size="18">b=6</text>
<path d="M622.9 1353.75H662.7" stroke="#008080" stroke-width="2"/>
<path d="M637.8 1353.75L647.8 1353.75M642.8 1348.75L642.8 1358.75" stroke="#008080" stroke-width="2" fill="none"/>
<text transform="translate(667.3 1359.3) scale(1 1)" font-size="18">b=7</text>
<path d="M723.95 1353.75H763.75" stroke="#0000FF" stroke-width="2"/>
<rect x="743.25" y="1351.45" width="5.8" height="3.3" fill="#0000FF"/>
<text transform="translate(768.35 1359.3) scale(1 1)" font-size="18">b=8</text>
<path d="M825 1353.75H864.8" stroke="#00CCFF" stroke-width="2"/>
<rect x="839.65" y="1351.35" width="10.5" height="3" fill="#00CCFF"/>
<text transform="translate(869.4 1359.3) scale(1 1)" font-size="18">b=9</text>
<path d="M926.05 1353.75H965.85" stroke="#CCFFFF" stroke-width="2"/>
<path d="M945.95 1348.75L950.95 1353.75L945.95 1358.75L940.95 1353.75Z" fill="#CCFFFF"/>
<text transform="translate(970.45 1359.3) scale(1 1)" font-size="18">b=10</text>
<path d="M16.6 1386.3H56.4" stroke="#CCFFCC" stroke-width="2"/>
<rect x="32.5" y="1381.8" width="8" height="8" fill="#CCFFCC"/>
<text transform="translate(61 1391.8) scale(1 1)" font-size="18">b=11</text>
<path d="M117.65 1386.3H157.45" stroke="#FFFF99" stroke-width="2"/>
<path d="M137.55 1381.3L142.55 1390.8L132.55 1390.8Z" fill="#FFFF99"/>
<text transform="translate(162.05 1391.8) scale(1 1)" font-size="18">b=12</text>
<path d="M218.7 1386.3H258.5" stroke="#99CCFF" stroke-width="2"/>
<path d="M234.1 1381.8L243.1 1390.8M243.1 1381.8L234.1 1390.8" stroke="#99CCFF" stroke-width="2" fill="none"/>
<text transform="translate(263.1 1391.8) scale(1 1)" font-size="18">b=13</text>
<path d="M319.75 1386.3H359.55" stroke="#FF99CC" stroke-width="2"/>
<path d="M335.15 1381.8L344.15 1390.8M344.15 1381.8L335.15 1390.8M339.65 1381.8L339.65 1390.8" stroke="#FF99CC" stroke-width="2" fill="none"/>
<text transform="translate(364.15 1391.8) scale(1 1)" font-size="18">b=14</text>
<path d="M420.8 1386.3H460.6" stroke="#CC99FF" stroke-width="2"/>
<circle cx="440.7" cy="1386.3" r="4.25" fill="#CC99FF"/>
<text transform="translate(465.2 1391.8) scale(1 1)" font-size="18">b=15</text>
<path d="M521.85 1386.3H561.65" stroke="#FFCC99" stroke-width="2"/>
<path d="M536.75 1386.3L546.75 1386.3M541.75 1381.3L541.75 1391.3" stroke="#FFCC99" stroke-width="2" fill="none"/>
<text transform="translate(566.25 1391.8) scale(1 1)" font-size="18">b=16</text>
<path d="M622.9 1386.3H662.7" stroke="#3366FF" stroke-width="2"/>
<rect x="642.2" y="1384" width="5.8" height="3.3" fill="#3366FF"/>
<text transform="translate(667.3 1391.8) scale(1 1)" font-size="18">b=17</text>
<path d="M723.95 1386.3H763.75" stroke="#33CCCC" stroke-width="2"/>
<rect x="738.6" y="1383.9" width="10.5" height="3" fill="#33CCCC"/>
<text transform="translate(768.35 1391.8) scale(1 1)" font-size="18">b=18</text>
<path d="M825 1386.3H864.8" stroke="#99CC00" stroke-width="2"/>
<path d="M844.9 1381.3L849.9 1386.3L844.9 1391.3L839.9 1386.3Z" fill="#99CC00"/>
<text transform="translate(869.4 1391.8) scale(1 1)" font-size="18">b=19</text>
<path d="M926.05 1386.3H965.85" stroke="#FFCC00" stroke-width="2"/>
<rect x="941.95" y="1381.8" width="8" height="8" fill="#FFCC00"/>
<text transform="translate(970.45 1391.8) scale(1 1)" font-size="18">b=20</text>
<text transform="translate(468 569.8) scale(1 1.04)" font-size="21.5">Y (number of levels)</text>
<text transform="translate(469.5 1307.3) scale(0.975 1.08)" font-size="21.5">Y (number of levels)</text>
<text transform="translate(33.3 329.5) rotate(-90)" font-size="21.5">Diversity index (D)</text>
<text transform="translate(35.6 1110.5) rotate(-90) scale(0.965 1)" font-size="23.5">Renyi's entropy of order 1 (H<tspan font-size="15">1</tspan>)</text>
</svg>
</body></html>
